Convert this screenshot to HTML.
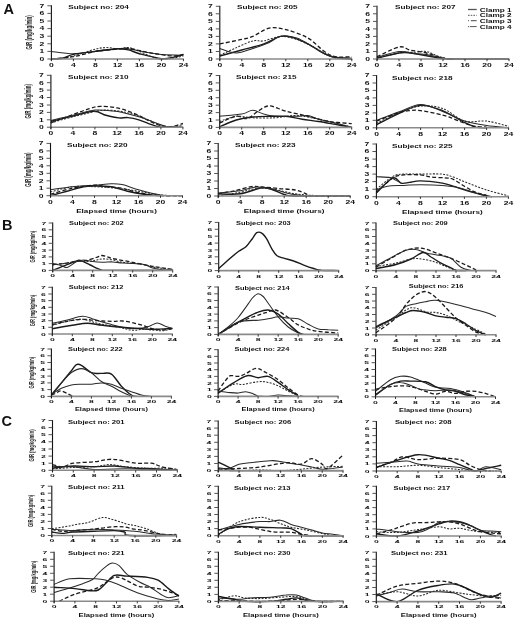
<!DOCTYPE html>
<html><head><meta charset="utf-8"><title>Figure</title>
<style>
html,body{margin:0;padding:0;background:#fff;width:520px;height:621px;overflow:hidden}
svg{display:block;font-family:"Liberation Sans", sans-serif;filter:blur(0.3px)}
</style></head><body>
<svg width="520" height="621" viewBox="0 0 520 621" font-family='"Liberation Sans", sans-serif' fill="#111">
<text x="3.6" y="13.7" font-size="14.5" font-weight="bold">A</text>
<text x="1.9" y="229.6" font-size="14.5" font-weight="bold">B</text>
<text x="1.6" y="426.4" font-size="14.5" font-weight="bold">C</text>
<path d="M51.4 51.4 C55.1 51.8 66.1 53.7 73.4 53.7 C80.7 53.7 88.1 52.2 95.4 51.4 C102.7 50.6 111.9 49.1 117.4 48.7 C122.9 48.4 122.9 48.4 128.4 49.1 C133.9 49.8 144.9 52 150.4 52.9 C155.9 53.8 155.9 54.1 161.4 54.4 C166.9 54.8 179.7 55.1 183.4 55.2" fill="none" stroke="#2a2a2a" stroke-width="1.05"/>
<path d="M51.4 59 C53.2 58.9 58.7 59 62.4 58.2 C66.1 57.5 67.9 55.6 73.4 54.4 C78.9 53.3 88.1 52.4 95.4 51.4 C102.7 50.4 111.9 49 117.4 48.7 C122.9 48.5 124.7 49.1 128.4 49.9 C132.1 50.7 133.9 52.2 139.4 53.7 C144.9 55.1 155.9 58 161.4 58.6 C166.9 59.3 168.7 58.2 172.4 57.5 C176.1 56.8 181.6 54.9 183.4 54.4" fill="none" stroke="#1a1a1a" stroke-width="1.4"/>
<path d="M56.9 59 C59.6 58.5 67 57.6 73.4 56 C79.8 54.3 89.9 50.5 95.4 49.1 C100.9 47.7 102.7 47.7 106.4 47.6 C110.1 47.5 113.7 48.7 117.4 48.7 C121.1 48.7 124.7 47.2 128.4 47.6 C132.1 48 134.8 49.6 139.4 51.4 C144 53.2 151.3 57 155.9 58.2 C160.5 59.5 162.3 59.4 166.9 59 C171.5 58.6 180.7 56.5 183.4 56" fill="none" stroke="#2a2a2a" stroke-width="1.05" stroke-dasharray="2 1.4"/>
<path d="M51.4 59 C55.1 58.6 66.1 58 73.4 56.7 C80.7 55.5 88.1 52.7 95.4 51.4 C102.7 50.1 111.9 49.6 117.4 49.1 C122.9 48.6 122.9 47.7 128.4 48.4 C133.9 49 143.1 51.7 150.4 52.9 C157.7 54.2 166.9 55.7 172.4 56 C177.9 56.2 181.6 54.7 183.4 54.4" fill="none" stroke="#1a1a1a" stroke-width="1.3" stroke-dasharray="4 2.2"/>
<path d="M51.4 59H183.9" stroke="#8a8a8a" stroke-width="1.6"/>
<path d="M51.4 59v2.2M73.4 59v2.2M95.4 59v2.2M117.4 59v2.2M139.4 59v2.2M161.4 59v2.2M183.4 59v2.2" stroke="#222" stroke-width="0.9"/>
<path d="M51.4 5.3V60.5" stroke="#111" stroke-width="1.1"/>
<path d="M47.4 59h4.0M47.4 51.4h4.0M47.4 43.8h4.0M47.4 36.2h4.0M47.4 28.6h4.0M47.4 21h4.0M47.4 13.4h4.0M47.4 5.8h4.0" stroke="#444" stroke-width="0.9"/>
<text transform="translate(42 60.8) scale(1 0.585)" text-anchor="middle" font-size="8.6" font-weight="bold">0</text>
<text transform="translate(42 53.2) scale(1 0.585)" text-anchor="middle" font-size="8.6" font-weight="bold">1</text>
<text transform="translate(42 45.6) scale(1 0.585)" text-anchor="middle" font-size="8.6" font-weight="bold">2</text>
<text transform="translate(42 38) scale(1 0.585)" text-anchor="middle" font-size="8.6" font-weight="bold">3</text>
<text transform="translate(42 30.4) scale(1 0.585)" text-anchor="middle" font-size="8.6" font-weight="bold">4</text>
<text transform="translate(42 22.8) scale(1 0.585)" text-anchor="middle" font-size="8.6" font-weight="bold">5</text>
<text transform="translate(42 15.2) scale(1 0.585)" text-anchor="middle" font-size="8.6" font-weight="bold">6</text>
<text transform="translate(42 7.6) scale(1 0.585)" text-anchor="middle" font-size="8.6" font-weight="bold">7</text>
<text transform="translate(51.4 66.8) scale(1 0.585)" text-anchor="middle" font-size="8.6" font-weight="bold">0</text>
<text transform="translate(73.4 66.8) scale(1 0.585)" text-anchor="middle" font-size="8.6" font-weight="bold">4</text>
<text transform="translate(95.4 66.8) scale(1 0.585)" text-anchor="middle" font-size="8.6" font-weight="bold">8</text>
<text transform="translate(117.4 66.8) scale(1 0.585)" text-anchor="middle" font-size="8.6" font-weight="bold">12</text>
<text transform="translate(139.4 66.8) scale(1 0.585)" text-anchor="middle" font-size="8.6" font-weight="bold">16</text>
<text transform="translate(161.4 66.8) scale(1 0.585)" text-anchor="middle" font-size="8.6" font-weight="bold">20</text>
<text transform="translate(183.4 66.8) scale(1 0.585)" text-anchor="middle" font-size="8.6" font-weight="bold">24</text>
<text transform="translate(68.3 9.2) scale(1 0.78)" font-size="8.0" font-weight="bold" textLength="60.5" lengthAdjust="spacingAndGlyphs">Subject no: 204</text>
<text transform="translate(31.8 32.4) rotate(-90)" text-anchor="middle" font-size="8.3" font-weight="bold" fill="#222" textLength="34.4" lengthAdjust="spacingAndGlyphs">GIR (mg/kg/min)</text>
<path d="M219.8 43.9 C223.5 43.2 236.3 40.7 241.8 39.4 C247.3 38.2 248.2 38.3 252.8 36.4 C257.4 34.5 263.8 29.3 269.3 28.1 C274.8 27 279.4 28 285.8 29.6 C292.2 31.3 301.4 34.3 307.8 37.9 C314.2 41.6 319.7 48.3 324.3 51.5 C328.9 54.6 330.7 55.9 335.3 56.7 C339.9 57.6 349.1 56.7 351.8 56.7" fill="none" stroke="#1a1a1a" stroke-width="1.3" stroke-dasharray="4 2.2"/>
<path d="M219.8 55.2 C222.6 54 230.8 50.1 236.3 47.7 C241.8 45.3 248.2 42.1 252.8 40.9 C257.4 39.8 259.2 41.7 263.8 40.9 C268.4 40.2 274.8 36.7 280.3 36.4 C285.8 36.2 291.3 37.7 296.8 39.4 C302.3 41.2 307.8 44.2 313.3 47 C318.8 49.7 325.2 54.1 329.8 56 C334.4 57.9 337.1 57.9 340.8 58.2 C344.5 58.6 350 58.2 351.8 58.2" fill="none" stroke="#2a2a2a" stroke-width="1.05" stroke-dasharray="2 1.4"/>
<path d="M219.8 56 C223.5 55 234.5 52 241.8 50 C249.1 48 257.4 46.2 263.8 43.9 C270.2 41.7 275.7 37.5 280.3 36.4 C284.9 35.3 286.7 35.9 291.3 37.2 C295.9 38.4 302.3 41.2 307.8 43.9 C313.3 46.7 319.7 51.5 324.3 53.7 C328.9 56 330.7 56.6 335.3 57.5 C339.9 58.4 349.1 58.7 351.8 59" fill="none" stroke="#1a1a1a" stroke-width="1.4"/>
<path d="M219.8 48.5 C222.6 49.2 230.8 53 236.3 53 C241.8 53 247.3 50.2 252.8 48.5 C258.3 46.7 264.7 44.4 269.3 42.4 C273.9 40.4 275.7 37.2 280.3 36.4 C284.9 35.7 291.3 36.2 296.8 37.9 C302.3 39.7 307.8 43.9 313.3 47 C318.8 50 323.4 54.1 329.8 56 C336.2 57.9 348.1 57.9 351.8 58.2" fill="none" stroke="#2a2a2a" stroke-width="1.05"/>
<path d="M219.8 59H352.3" stroke="#8a8a8a" stroke-width="1.6"/>
<path d="M219.8 59v2.2M241.8 59v2.2M263.8 59v2.2M285.8 59v2.2M307.8 59v2.2M329.8 59v2.2M351.8 59v2.2" stroke="#222" stroke-width="0.9"/>
<path d="M219.8 5.8V60.5" stroke="#111" stroke-width="1.1"/>
<path d="M215.8 59h4.0M215.8 51.5h4.0M215.8 43.9h4.0M215.8 36.4h4.0M215.8 28.9h4.0M215.8 21.4h4.0M215.8 13.8h4.0M215.8 6.3h4.0" stroke="#444" stroke-width="0.9"/>
<text transform="translate(210.4 60.8) scale(1 0.585)" text-anchor="middle" font-size="8.6" font-weight="bold">0</text>
<text transform="translate(210.4 53.3) scale(1 0.585)" text-anchor="middle" font-size="8.6" font-weight="bold">1</text>
<text transform="translate(210.4 45.7) scale(1 0.585)" text-anchor="middle" font-size="8.6" font-weight="bold">2</text>
<text transform="translate(210.4 38.2) scale(1 0.585)" text-anchor="middle" font-size="8.6" font-weight="bold">3</text>
<text transform="translate(210.4 30.7) scale(1 0.585)" text-anchor="middle" font-size="8.6" font-weight="bold">4</text>
<text transform="translate(210.4 23.2) scale(1 0.585)" text-anchor="middle" font-size="8.6" font-weight="bold">5</text>
<text transform="translate(210.4 15.6) scale(1 0.585)" text-anchor="middle" font-size="8.6" font-weight="bold">6</text>
<text transform="translate(210.4 8.1) scale(1 0.585)" text-anchor="middle" font-size="8.6" font-weight="bold">7</text>
<text transform="translate(219.8 66.8) scale(1 0.585)" text-anchor="middle" font-size="8.6" font-weight="bold">0</text>
<text transform="translate(241.8 66.8) scale(1 0.585)" text-anchor="middle" font-size="8.6" font-weight="bold">4</text>
<text transform="translate(263.8 66.8) scale(1 0.585)" text-anchor="middle" font-size="8.6" font-weight="bold">8</text>
<text transform="translate(285.8 66.8) scale(1 0.585)" text-anchor="middle" font-size="8.6" font-weight="bold">12</text>
<text transform="translate(307.8 66.8) scale(1 0.585)" text-anchor="middle" font-size="8.6" font-weight="bold">16</text>
<text transform="translate(329.8 66.8) scale(1 0.585)" text-anchor="middle" font-size="8.6" font-weight="bold">20</text>
<text transform="translate(351.8 66.8) scale(1 0.585)" text-anchor="middle" font-size="8.6" font-weight="bold">24</text>
<text transform="translate(237 8.7) scale(1 0.78)" font-size="8.0" font-weight="bold" textLength="60.5" lengthAdjust="spacingAndGlyphs">Subject no: 205</text>
<path d="M377 56.7 C380.7 55.1 393.5 48.1 399 47 C404.5 45.8 405.4 49 410 50 C414.6 51 421 51.6 426.5 53 C432 54.4 438.4 57.2 443 58.2 C447.6 59.3 452.2 58.9 454 59" fill="none" stroke="#1a1a1a" stroke-width="1.3" stroke-dasharray="4 2.2"/>
<path d="M377 58.2 C380.7 57.4 392.6 54 399 53 C405.4 52 410.9 52.5 415.5 52.2 C420.1 52 422.8 50.8 426.5 51.5 C430.2 52.1 433.8 54.7 437.5 56 C441.2 57.2 446.7 58.5 448.5 59" fill="none" stroke="#2a2a2a" stroke-width="1.05" stroke-dasharray="2 1.4"/>
<path d="M377 58.2 C380.7 57.4 393.5 53.9 399 53 C404.5 52.1 404.5 52.3 410 53 C415.5 53.6 426.5 55.8 432 56.7 C437.5 57.7 439.3 58.2 443 58.6 C446.7 59 443 58.9 454 59 C465 59.1 499.8 59 509 59" fill="none" stroke="#1a1a1a" stroke-width="1.4"/>
<path d="M377 57.5 C380.7 56.5 392.6 52.1 399 51.5 C405.4 50.8 410.9 53.2 415.5 53.7 C420.1 54.2 421.9 53.7 426.5 54.5 C431.1 55.2 438.4 57.5 443 58.2 C447.6 59 452.2 58.9 454 59" fill="none" stroke="#2a2a2a" stroke-width="1.05"/>
<path d="M377 59H509.5" stroke="#8a8a8a" stroke-width="1.6"/>
<path d="M377 59v2.2M399 59v2.2M421 59v2.2M443 59v2.2M465 59v2.2M487 59v2.2M509 59v2.2" stroke="#222" stroke-width="0.9"/>
<path d="M377 5.8V60.5" stroke="#111" stroke-width="1.1"/>
<path d="M373 59h4.0M373 51.5h4.0M373 43.9h4.0M373 36.4h4.0M373 28.9h4.0M373 21.4h4.0M373 13.8h4.0M373 6.3h4.0" stroke="#444" stroke-width="0.9"/>
<text transform="translate(367.6 60.8) scale(1 0.585)" text-anchor="middle" font-size="8.6" font-weight="bold">0</text>
<text transform="translate(367.6 53.3) scale(1 0.585)" text-anchor="middle" font-size="8.6" font-weight="bold">1</text>
<text transform="translate(367.6 45.7) scale(1 0.585)" text-anchor="middle" font-size="8.6" font-weight="bold">2</text>
<text transform="translate(367.6 38.2) scale(1 0.585)" text-anchor="middle" font-size="8.6" font-weight="bold">3</text>
<text transform="translate(367.6 30.7) scale(1 0.585)" text-anchor="middle" font-size="8.6" font-weight="bold">4</text>
<text transform="translate(367.6 23.2) scale(1 0.585)" text-anchor="middle" font-size="8.6" font-weight="bold">5</text>
<text transform="translate(367.6 15.6) scale(1 0.585)" text-anchor="middle" font-size="8.6" font-weight="bold">6</text>
<text transform="translate(367.6 8.1) scale(1 0.585)" text-anchor="middle" font-size="8.6" font-weight="bold">7</text>
<text transform="translate(377 66.8) scale(1 0.585)" text-anchor="middle" font-size="8.6" font-weight="bold">0</text>
<text transform="translate(399 66.8) scale(1 0.585)" text-anchor="middle" font-size="8.6" font-weight="bold">4</text>
<text transform="translate(421 66.8) scale(1 0.585)" text-anchor="middle" font-size="8.6" font-weight="bold">8</text>
<text transform="translate(443 66.8) scale(1 0.585)" text-anchor="middle" font-size="8.6" font-weight="bold">12</text>
<text transform="translate(465 66.8) scale(1 0.585)" text-anchor="middle" font-size="8.6" font-weight="bold">16</text>
<text transform="translate(487 66.8) scale(1 0.585)" text-anchor="middle" font-size="8.6" font-weight="bold">20</text>
<text transform="translate(509 66.8) scale(1 0.585)" text-anchor="middle" font-size="8.6" font-weight="bold">24</text>
<text transform="translate(395 8.9) scale(1 0.78)" font-size="8.0" font-weight="bold" textLength="60.5" lengthAdjust="spacingAndGlyphs">Subject no: 207</text>
<path d="M50.9 122.8 C54.6 121.4 66.5 116.9 72.9 114.6 C79.3 112.2 84.8 110 89.4 108.7 C94 107.3 95.8 106.6 100.4 106.4 C105 106.3 111.4 106.8 116.9 107.9 C122.4 109 127.9 110.9 133.4 113.1 C138.9 115.3 145.3 119.2 149.9 121.3 C154.5 123.4 157.2 124.9 160.9 125.7 C164.6 126.6 168.2 126.8 171.9 126.5 C175.6 126.1 181.1 124 182.9 123.5" fill="none" stroke="#1a1a1a" stroke-width="1.3" stroke-dasharray="4 2.2"/>
<path d="M50.9 121.3 C54.6 120.4 65.8 117.7 72.9 116.1 C80.1 114.4 88.3 111.4 93.8 111.3 C99.3 111.1 101.8 114.2 105.9 115.3 C110 116.4 114.9 117.6 118.6 117.9 C122.2 118.3 124.5 117.3 127.9 117.6 C131.3 117.9 135 118.6 138.9 119.8 C142.8 121 147.9 123.4 151.6 124.6 C155.2 125.8 157.5 126.8 160.9 127.2 C164.3 127.6 170.1 127.2 171.9 127.2" fill="none" stroke="#1a1a1a" stroke-width="1.4"/>
<path d="M50.9 120.5 C54.6 119.7 65.6 117.1 72.9 115.3 C80.2 113.6 88.5 110.9 94.9 110.1 C101.3 109.4 106.8 110.5 111.4 110.9 C116 111.3 117.8 111.4 122.4 112.4 C127 113.4 133.4 115.1 138.9 116.8 C144.4 118.6 150.8 121.1 155.4 122.8 C160 124.4 161.8 125.7 166.4 126.5 C171 127.2 180.2 127.1 182.9 127.2" fill="none" stroke="#2a2a2a" stroke-width="1.05"/>
<path d="M50.9 122.8 C54.6 121.8 65.6 118.7 72.9 116.8 C80.2 115 89.4 112.7 94.9 111.6 C100.4 110.5 101.3 110.1 105.9 110.1 C110.5 110.1 116.9 110.6 122.4 111.6 C127.9 112.6 133.4 114.2 138.9 116.1 C144.4 117.9 150.8 121 155.4 122.8 C160 124.5 161.8 126 166.4 126.5 C171 127 180.2 125.8 182.9 125.7" fill="none" stroke="#2a2a2a" stroke-width="1.05" stroke-dasharray="2 1.4"/>
<path d="M50.9 127.2H183.4" stroke="#8a8a8a" stroke-width="1.6"/>
<path d="M50.9 127.2v2.2M72.9 127.2v2.2M94.9 127.2v2.2M116.9 127.2v2.2M138.9 127.2v2.2M160.9 127.2v2.2M182.9 127.2v2.2" stroke="#222" stroke-width="0.9"/>
<path d="M50.9 74.8V128.7" stroke="#111" stroke-width="1.1"/>
<path d="M46.9 127.2h4.0M46.9 119.8h4.0M46.9 112.4h4.0M46.9 105h4.0M46.9 97.5h4.0M46.9 90.1h4.0M46.9 82.7h4.0M46.9 75.3h4.0" stroke="#444" stroke-width="0.9"/>
<text transform="translate(41.5 129) scale(1 0.585)" text-anchor="middle" font-size="8.6" font-weight="bold">0</text>
<text transform="translate(41.5 121.6) scale(1 0.585)" text-anchor="middle" font-size="8.6" font-weight="bold">1</text>
<text transform="translate(41.5 114.2) scale(1 0.585)" text-anchor="middle" font-size="8.6" font-weight="bold">2</text>
<text transform="translate(41.5 106.8) scale(1 0.585)" text-anchor="middle" font-size="8.6" font-weight="bold">3</text>
<text transform="translate(41.5 99.3) scale(1 0.585)" text-anchor="middle" font-size="8.6" font-weight="bold">4</text>
<text transform="translate(41.5 91.9) scale(1 0.585)" text-anchor="middle" font-size="8.6" font-weight="bold">5</text>
<text transform="translate(41.5 84.5) scale(1 0.585)" text-anchor="middle" font-size="8.6" font-weight="bold">6</text>
<text transform="translate(41.5 77.1) scale(1 0.585)" text-anchor="middle" font-size="8.6" font-weight="bold">7</text>
<text transform="translate(50.9 135) scale(1 0.585)" text-anchor="middle" font-size="8.6" font-weight="bold">0</text>
<text transform="translate(72.9 135) scale(1 0.585)" text-anchor="middle" font-size="8.6" font-weight="bold">4</text>
<text transform="translate(94.9 135) scale(1 0.585)" text-anchor="middle" font-size="8.6" font-weight="bold">8</text>
<text transform="translate(116.9 135) scale(1 0.585)" text-anchor="middle" font-size="8.6" font-weight="bold">12</text>
<text transform="translate(138.9 135) scale(1 0.585)" text-anchor="middle" font-size="8.6" font-weight="bold">16</text>
<text transform="translate(160.9 135) scale(1 0.585)" text-anchor="middle" font-size="8.6" font-weight="bold">20</text>
<text transform="translate(182.9 135) scale(1 0.585)" text-anchor="middle" font-size="8.6" font-weight="bold">24</text>
<text transform="translate(68 78.8) scale(1 0.78)" font-size="8.0" font-weight="bold" textLength="60.5" lengthAdjust="spacingAndGlyphs">Subject no: 210</text>
<text transform="translate(31.3 101.2) rotate(-90)" text-anchor="middle" font-size="8.3" font-weight="bold" fill="#222" textLength="34.4" lengthAdjust="spacingAndGlyphs">GIR (mg/kg/min)</text>
<path d="M219.7 116.3 C223.4 115.9 236.2 115 241.7 114.1 C247.2 113.1 249 110.3 252.7 110.3 C256.4 110.3 260 113.1 263.7 114.1 C267.4 115 269.2 115.9 274.7 116.3 C280.2 116.6 291.2 116.4 296.7 116.3 C302.2 116.2 304 115 307.7 115.5 C311.4 116 314.1 118 318.7 119.2 C323.3 120.5 329.7 121.6 335.2 123 C340.7 124.3 348.9 126.7 351.7 127.4" fill="none" stroke="#2a2a2a" stroke-width="1.05"/>
<path d="M219.7 123 C222.4 121.8 231.6 117 236.2 116.3 C240.8 115.5 243.5 119.4 247.2 118.5 C250.9 117.6 254.5 113.2 258.2 111.1 C261.9 109 264.6 105.9 269.2 105.9 C273.8 105.9 279.3 109.4 285.7 111.1 C292.1 112.8 300.4 114.5 307.7 116.3 C315 118 322.4 120.2 329.7 121.5 C337 122.7 348 123.3 351.7 123.7" fill="none" stroke="#1a1a1a" stroke-width="1.3" stroke-dasharray="4 2.2"/>
<path d="M219.7 126.7 C222.4 125.5 230.7 121.6 236.2 120 C241.7 118.4 247.2 117.6 252.7 117 C258.2 116.4 263.7 116.4 269.2 116.3 C274.7 116.2 280.2 115.8 285.7 116.3 C291.2 116.8 296.7 118.4 302.2 119.2 C307.7 120.1 313.2 120.6 318.7 121.5 C324.2 122.3 329.7 123.4 335.2 124.4 C340.7 125.4 348.9 126.9 351.7 127.4" fill="none" stroke="#1a1a1a" stroke-width="1.4"/>
<path d="M219.7 121.5 C222.4 120.6 230.7 116.9 236.2 116.3 C241.7 115.7 246.3 117.5 252.7 117.8 C259.1 118 267.4 118.1 274.7 117.8 C282 117.4 289.4 115.3 296.7 115.5 C304 115.8 311.4 117.8 318.7 119.2 C326 120.7 335.2 123.1 340.7 124.4 C346.2 125.8 349.9 126.9 351.7 127.4" fill="none" stroke="#2a2a2a" stroke-width="1.05" stroke-dasharray="2 1.4"/>
<path d="M219.7 127.4H352.2" stroke="#8a8a8a" stroke-width="1.6"/>
<path d="M219.7 127.4v2.2M241.7 127.4v2.2M263.7 127.4v2.2M285.7 127.4v2.2M307.7 127.4v2.2M329.7 127.4v2.2M351.7 127.4v2.2" stroke="#222" stroke-width="0.9"/>
<path d="M219.7 75V128.9" stroke="#111" stroke-width="1.1"/>
<path d="M215.7 127.4h4.0M215.7 120h4.0M215.7 112.6h4.0M215.7 105.2h4.0M215.7 97.7h4.0M215.7 90.3h4.0M215.7 82.9h4.0M215.7 75.5h4.0" stroke="#444" stroke-width="0.9"/>
<text transform="translate(210.3 129.2) scale(1 0.585)" text-anchor="middle" font-size="8.6" font-weight="bold">0</text>
<text transform="translate(210.3 121.8) scale(1 0.585)" text-anchor="middle" font-size="8.6" font-weight="bold">1</text>
<text transform="translate(210.3 114.4) scale(1 0.585)" text-anchor="middle" font-size="8.6" font-weight="bold">2</text>
<text transform="translate(210.3 107) scale(1 0.585)" text-anchor="middle" font-size="8.6" font-weight="bold">3</text>
<text transform="translate(210.3 99.5) scale(1 0.585)" text-anchor="middle" font-size="8.6" font-weight="bold">4</text>
<text transform="translate(210.3 92.1) scale(1 0.585)" text-anchor="middle" font-size="8.6" font-weight="bold">5</text>
<text transform="translate(210.3 84.7) scale(1 0.585)" text-anchor="middle" font-size="8.6" font-weight="bold">6</text>
<text transform="translate(210.3 77.3) scale(1 0.585)" text-anchor="middle" font-size="8.6" font-weight="bold">7</text>
<text transform="translate(219.7 135.2) scale(1 0.585)" text-anchor="middle" font-size="8.6" font-weight="bold">0</text>
<text transform="translate(241.7 135.2) scale(1 0.585)" text-anchor="middle" font-size="8.6" font-weight="bold">4</text>
<text transform="translate(263.7 135.2) scale(1 0.585)" text-anchor="middle" font-size="8.6" font-weight="bold">8</text>
<text transform="translate(285.7 135.2) scale(1 0.585)" text-anchor="middle" font-size="8.6" font-weight="bold">12</text>
<text transform="translate(307.7 135.2) scale(1 0.585)" text-anchor="middle" font-size="8.6" font-weight="bold">16</text>
<text transform="translate(329.7 135.2) scale(1 0.585)" text-anchor="middle" font-size="8.6" font-weight="bold">20</text>
<text transform="translate(351.7 135.2) scale(1 0.585)" text-anchor="middle" font-size="8.6" font-weight="bold">24</text>
<text transform="translate(236 78.8) scale(1 0.78)" font-size="8.0" font-weight="bold" textLength="60.5" lengthAdjust="spacingAndGlyphs">Subject no: 215</text>
<path d="M376.6 124.8 C380.3 122.9 391.3 116.8 398.6 113.6 C405.9 110.4 413.3 105.9 420.6 105.4 C427.9 104.9 435.3 107.8 442.6 110.6 C449.9 113.5 459.1 119.8 464.6 122.6 C470.1 125.3 471.9 126.2 475.6 127.1 C479.3 127.9 484.8 127.7 486.6 127.8" fill="none" stroke="#1a1a1a" stroke-width="1.4"/>
<path d="M376.6 123.3 C380.3 121.6 391.3 115.7 398.6 112.9 C405.9 110 413.3 106.9 420.6 106.1 C427.9 105.4 435.3 105.9 442.6 108.4 C449.9 110.9 457.3 119 464.6 121.1 C471.9 123.2 479.3 120.2 486.6 121.1 C493.9 121.9 504.9 125.4 508.6 126.3" fill="none" stroke="#2a2a2a" stroke-width="1.05" stroke-dasharray="2 1.4"/>
<path d="M376.6 120.3 C380.3 119 391.3 114.7 398.6 112.1 C405.9 109.5 413.3 104.8 420.6 104.6 C427.9 104.5 435.3 108.6 442.6 111.4 C449.9 114.1 457.3 118.7 464.6 121.1 C471.9 123.4 479.3 124.4 486.6 125.6 C493.9 126.7 504.9 127.4 508.6 127.8" fill="none" stroke="#2a2a2a" stroke-width="1.05"/>
<path d="M376.6 121.1 C380.3 119.7 393.1 114.6 398.6 112.9 C404.1 111.1 405.9 111 409.6 110.6 C413.3 110.2 415.1 109.9 420.6 110.6 C426.1 111.4 437.1 113.7 442.6 115.1 C448.1 116.5 449.9 117.5 453.6 118.8 C457.3 120.2 460.9 122.1 464.6 123.3 C468.3 124.6 471.9 125.7 475.6 126.3 C479.3 126.9 484.8 126.9 486.6 127.1" fill="none" stroke="#1a1a1a" stroke-width="1.3" stroke-dasharray="4 2.2"/>
<path d="M376.6 127.8H509.1" stroke="#8a8a8a" stroke-width="1.6"/>
<path d="M376.6 127.8v2.2M398.6 127.8v2.2M420.6 127.8v2.2M442.6 127.8v2.2M464.6 127.8v2.2M486.6 127.8v2.2M508.6 127.8v2.2" stroke="#222" stroke-width="0.9"/>
<path d="M376.6 75V129.3" stroke="#111" stroke-width="1.1"/>
<path d="M372.6 127.8h4.0M372.6 120.3h4.0M372.6 112.9h4.0M372.6 105.4h4.0M372.6 97.9h4.0M372.6 90.4h4.0M372.6 83h4.0M372.6 75.5h4.0" stroke="#444" stroke-width="0.9"/>
<text transform="translate(367.2 129.6) scale(1 0.585)" text-anchor="middle" font-size="8.6" font-weight="bold">0</text>
<text transform="translate(367.2 122.1) scale(1 0.585)" text-anchor="middle" font-size="8.6" font-weight="bold">1</text>
<text transform="translate(367.2 114.7) scale(1 0.585)" text-anchor="middle" font-size="8.6" font-weight="bold">2</text>
<text transform="translate(367.2 107.2) scale(1 0.585)" text-anchor="middle" font-size="8.6" font-weight="bold">3</text>
<text transform="translate(367.2 99.7) scale(1 0.585)" text-anchor="middle" font-size="8.6" font-weight="bold">4</text>
<text transform="translate(367.2 92.2) scale(1 0.585)" text-anchor="middle" font-size="8.6" font-weight="bold">5</text>
<text transform="translate(367.2 84.8) scale(1 0.585)" text-anchor="middle" font-size="8.6" font-weight="bold">6</text>
<text transform="translate(367.2 77.3) scale(1 0.585)" text-anchor="middle" font-size="8.6" font-weight="bold">7</text>
<text transform="translate(376.6 135.6) scale(1 0.585)" text-anchor="middle" font-size="8.6" font-weight="bold">0</text>
<text transform="translate(398.6 135.6) scale(1 0.585)" text-anchor="middle" font-size="8.6" font-weight="bold">4</text>
<text transform="translate(420.6 135.6) scale(1 0.585)" text-anchor="middle" font-size="8.6" font-weight="bold">8</text>
<text transform="translate(442.6 135.6) scale(1 0.585)" text-anchor="middle" font-size="8.6" font-weight="bold">12</text>
<text transform="translate(464.6 135.6) scale(1 0.585)" text-anchor="middle" font-size="8.6" font-weight="bold">16</text>
<text transform="translate(486.6 135.6) scale(1 0.585)" text-anchor="middle" font-size="8.6" font-weight="bold">20</text>
<text transform="translate(508.6 135.6) scale(1 0.585)" text-anchor="middle" font-size="8.6" font-weight="bold">24</text>
<text transform="translate(392 79.6) scale(1 0.78)" font-size="8.0" font-weight="bold" textLength="60.5" lengthAdjust="spacingAndGlyphs">Subject no: 218</text>
<path d="M50.5 189.7 C54.2 189.2 65.2 187.5 72.5 186.7 C79.8 186 88.1 185.7 94.5 185.2 C100.9 184.7 106.4 183.9 111 183.7 C115.6 183.6 117.4 183.5 122 184.5 C126.6 185.5 132.1 188 138.5 189.7 C144.9 191.5 155 194 160.5 195 C166 195.9 169.7 195.6 171.5 195.7" fill="none" stroke="#2a2a2a" stroke-width="1.05"/>
<path d="M50.5 194.2 C54.2 193.2 65.2 189.7 72.5 188.2 C79.8 186.7 89 185.5 94.5 185.2 C100 185 100.9 186.2 105.5 186.7 C110.1 187.2 116.5 187.2 122 188.2 C127.5 189.2 132.1 191.5 138.5 192.7 C144.9 194 153.2 195.2 160.5 195.7 C167.8 196.2 178.8 195.7 182.5 195.7" fill="none" stroke="#1a1a1a" stroke-width="1.3" stroke-dasharray="4 2.2"/>
<path d="M50.5 195.7 C53.2 195 61.5 192.7 67 191.2 C72.5 189.7 78.9 187.6 83.5 186.7 C88.1 185.9 89.9 186 94.5 186 C99.1 186 105.5 185.9 111 186.7 C116.5 187.6 122 190 127.5 191.2 C133 192.5 138.5 193.5 144 194.2 C149.5 195 157.8 195.5 160.5 195.7" fill="none" stroke="#1a1a1a" stroke-width="1.4"/>
<path d="M50.5 192 C54.2 191.1 65.2 187.6 72.5 186.7 C79.8 185.9 87.2 186.5 94.5 186.7 C101.8 187 109.2 187.5 116.5 188.2 C123.8 189 131.2 190.1 138.5 191.2 C145.8 192.3 153.2 194.2 160.5 195 C167.8 195.7 178.8 195.6 182.5 195.7" fill="none" stroke="#2a2a2a" stroke-width="1.05" stroke-dasharray="2 1.4"/>
<path d="M50.5 195.7H183" stroke="#8a8a8a" stroke-width="1.6"/>
<path d="M50.5 195.7v2.2M72.5 195.7v2.2M94.5 195.7v2.2M116.5 195.7v2.2M138.5 195.7v2.2M160.5 195.7v2.2M182.5 195.7v2.2" stroke="#222" stroke-width="0.9"/>
<path d="M50.5 142.9V197.2" stroke="#111" stroke-width="1.1"/>
<path d="M46.5 195.7h4.0M46.5 188.2h4.0M46.5 180.8h4.0M46.5 173.3h4.0M46.5 165.8h4.0M46.5 158.3h4.0M46.5 150.9h4.0M46.5 143.4h4.0" stroke="#444" stroke-width="0.9"/>
<text transform="translate(41.1 197.5) scale(1 0.585)" text-anchor="middle" font-size="8.6" font-weight="bold">0</text>
<text transform="translate(41.1 190) scale(1 0.585)" text-anchor="middle" font-size="8.6" font-weight="bold">1</text>
<text transform="translate(41.1 182.6) scale(1 0.585)" text-anchor="middle" font-size="8.6" font-weight="bold">2</text>
<text transform="translate(41.1 175.1) scale(1 0.585)" text-anchor="middle" font-size="8.6" font-weight="bold">3</text>
<text transform="translate(41.1 167.6) scale(1 0.585)" text-anchor="middle" font-size="8.6" font-weight="bold">4</text>
<text transform="translate(41.1 160.1) scale(1 0.585)" text-anchor="middle" font-size="8.6" font-weight="bold">5</text>
<text transform="translate(41.1 152.7) scale(1 0.585)" text-anchor="middle" font-size="8.6" font-weight="bold">6</text>
<text transform="translate(41.1 145.2) scale(1 0.585)" text-anchor="middle" font-size="8.6" font-weight="bold">7</text>
<text transform="translate(50.5 203.5) scale(1 0.585)" text-anchor="middle" font-size="8.6" font-weight="bold">0</text>
<text transform="translate(72.5 203.5) scale(1 0.585)" text-anchor="middle" font-size="8.6" font-weight="bold">4</text>
<text transform="translate(94.5 203.5) scale(1 0.585)" text-anchor="middle" font-size="8.6" font-weight="bold">8</text>
<text transform="translate(116.5 203.5) scale(1 0.585)" text-anchor="middle" font-size="8.6" font-weight="bold">12</text>
<text transform="translate(138.5 203.5) scale(1 0.585)" text-anchor="middle" font-size="8.6" font-weight="bold">16</text>
<text transform="translate(160.5 203.5) scale(1 0.585)" text-anchor="middle" font-size="8.6" font-weight="bold">20</text>
<text transform="translate(182.5 203.5) scale(1 0.585)" text-anchor="middle" font-size="8.6" font-weight="bold">24</text>
<text transform="translate(67 146.8) scale(1 0.78)" font-size="8.0" font-weight="bold" textLength="60.5" lengthAdjust="spacingAndGlyphs">Subject no: 220</text>
<text transform="translate(30.9 169.6) rotate(-90)" text-anchor="middle" font-size="8.3" font-weight="bold" fill="#222" textLength="34.4" lengthAdjust="spacingAndGlyphs">GIR (mg/kg/min)</text>
<text transform="translate(116.5 212.6) scale(1 0.72)" text-anchor="middle" font-size="7.6" font-weight="bold" textLength="80.7" lengthAdjust="spacingAndGlyphs">Elapsed time (hours)</text>
<path d="M218.2 193.8 C220.9 193.2 229.2 191.9 234.7 190.8 C240.2 189.6 246.6 187.2 251.2 186.6 C255.8 186 257.6 186.7 262.2 187 C266.8 187.3 273.2 188 278.7 188.5 C284.2 189 290.6 189.1 295.2 190 C299.8 190.9 303.4 192.8 306.2 193.8 C308.9 194.8 304.4 195.6 311.7 196 C319 196.4 343.8 196 350.2 196" fill="none" stroke="#1a1a1a" stroke-width="1.3" stroke-dasharray="4 2.2"/>
<path d="M218.2 193.8 C221.9 193.8 232.9 194.8 240.2 193.8 C247.5 192.8 256.7 188.4 262.2 187.8 C267.7 187.1 269.5 188.9 273.2 190 C276.9 191.1 280.5 193.5 284.2 194.5 C287.9 195.5 284.2 195.8 295.2 196 C306.2 196.2 341 196 350.2 196" fill="none" stroke="#1a1a1a" stroke-width="1.4"/>
<path d="M218.2 193 C221.9 192.6 233.8 191.8 240.2 190.8 C246.6 189.8 251.2 187.2 256.7 187 C262.2 186.8 267.7 188.1 273.2 189.2 C278.7 190.4 284.2 192.6 289.7 193.8 C295.2 194.9 303.4 195.6 306.2 196" fill="none" stroke="#2a2a2a" stroke-width="1.05"/>
<path d="M218.2 196 C221.9 195.4 233.8 193.5 240.2 192.2 C246.6 191 251.2 189 256.7 188.5 C262.2 188 266.8 188.4 273.2 189.2 C279.6 190.1 287.9 192.7 295.2 193.8 C302.5 194.8 308 195.2 317.2 195.6 C326.4 196 344.7 195.9 350.2 196" fill="none" stroke="#2a2a2a" stroke-width="1.05" stroke-dasharray="2 1.4"/>
<path d="M218.2 196H350.7" stroke="#8a8a8a" stroke-width="1.6"/>
<path d="M218.2 196v2.2M240.2 196v2.2M262.2 196v2.2M284.2 196v2.2M306.2 196v2.2M328.2 196v2.2M350.2 196v2.2" stroke="#222" stroke-width="0.9"/>
<path d="M218.2 143V197.5" stroke="#111" stroke-width="1.1"/>
<path d="M214.2 196h4.0M214.2 188.5h4.0M214.2 181h4.0M214.2 173.5h4.0M214.2 166h4.0M214.2 158.5h4.0M214.2 151h4.0M214.2 143.5h4.0" stroke="#444" stroke-width="0.9"/>
<text transform="translate(208.8 197.8) scale(1 0.585)" text-anchor="middle" font-size="8.6" font-weight="bold">0</text>
<text transform="translate(208.8 190.3) scale(1 0.585)" text-anchor="middle" font-size="8.6" font-weight="bold">1</text>
<text transform="translate(208.8 182.8) scale(1 0.585)" text-anchor="middle" font-size="8.6" font-weight="bold">2</text>
<text transform="translate(208.8 175.3) scale(1 0.585)" text-anchor="middle" font-size="8.6" font-weight="bold">3</text>
<text transform="translate(208.8 167.8) scale(1 0.585)" text-anchor="middle" font-size="8.6" font-weight="bold">4</text>
<text transform="translate(208.8 160.3) scale(1 0.585)" text-anchor="middle" font-size="8.6" font-weight="bold">5</text>
<text transform="translate(208.8 152.8) scale(1 0.585)" text-anchor="middle" font-size="8.6" font-weight="bold">6</text>
<text transform="translate(208.8 145.3) scale(1 0.585)" text-anchor="middle" font-size="8.6" font-weight="bold">7</text>
<text transform="translate(218.2 203.8) scale(1 0.585)" text-anchor="middle" font-size="8.6" font-weight="bold">0</text>
<text transform="translate(240.2 203.8) scale(1 0.585)" text-anchor="middle" font-size="8.6" font-weight="bold">4</text>
<text transform="translate(262.2 203.8) scale(1 0.585)" text-anchor="middle" font-size="8.6" font-weight="bold">8</text>
<text transform="translate(284.2 203.8) scale(1 0.585)" text-anchor="middle" font-size="8.6" font-weight="bold">12</text>
<text transform="translate(306.2 203.8) scale(1 0.585)" text-anchor="middle" font-size="8.6" font-weight="bold">16</text>
<text transform="translate(328.2 203.8) scale(1 0.585)" text-anchor="middle" font-size="8.6" font-weight="bold">20</text>
<text transform="translate(350.2 203.8) scale(1 0.585)" text-anchor="middle" font-size="8.6" font-weight="bold">24</text>
<text transform="translate(235 146.8) scale(1 0.78)" font-size="8.0" font-weight="bold" textLength="60.5" lengthAdjust="spacingAndGlyphs">Subject no: 223</text>
<text transform="translate(284.2 212.9) scale(1 0.72)" text-anchor="middle" font-size="7.6" font-weight="bold" textLength="80.7" lengthAdjust="spacingAndGlyphs">Elapsed time (hours)</text>
<path d="M376.4 189.2 C379.1 187 388.3 178.9 392.9 176.4 C397.5 173.9 399.3 174.5 403.9 174.1 C408.5 173.7 414 174.1 420.4 174.1 C426.8 174.1 436.9 173.6 442.4 174.1 C447.9 174.6 449.7 175.9 453.4 177.1 C457.1 178.4 458.9 179.5 464.4 181.6 C469.9 183.8 479.1 187.5 486.4 189.9 C493.7 192.3 504.7 194.9 508.4 195.9" fill="none" stroke="#2a2a2a" stroke-width="1.05" stroke-dasharray="2 1.4"/>
<path d="M376.4 192.2 C379.1 189.8 388.3 180.8 392.9 177.9 C397.5 175 399.3 175.4 403.9 174.9 C408.5 174.4 415.8 174.5 420.4 174.9 C425 175.2 427.3 176.6 431.4 177.1 C435.5 177.6 441.5 177.5 445.1 177.9 C448.8 178.3 450.2 178 453.4 179.4 C456.6 180.8 460.7 184 464.4 186.2 C468.1 188.3 471.7 190.7 475.4 192.2 C479.1 193.7 484.6 194.7 486.4 195.2" fill="none" stroke="#1a1a1a" stroke-width="1.3" stroke-dasharray="4 2.2"/>
<path d="M376.4 192.9 C379.1 190.4 388.8 179.5 392.9 177.9 C397 176.2 398.4 182.4 401.1 183.1 C403.9 183.9 406.2 182.8 409.4 182.4 C412.6 182 414.9 180.8 420.4 180.9 C425.9 181 436.9 182.3 442.4 183.1 C447.9 184 449.7 185 453.4 186.2 C457.1 187.3 460.7 188.8 464.4 189.9 C468.1 191.1 471.7 191.9 475.4 192.9 C479.1 193.9 483.6 195.3 486.4 195.9 C489.1 196.6 491 196.6 491.9 196.7" fill="none" stroke="#1a1a1a" stroke-width="1.4"/>
<path d="M376.4 176.7 C378.7 176.9 386.9 176.9 390.1 177.5 C393.4 178.1 393.8 179.2 395.6 180.1 C397.5 181.1 400.2 182.6 401.1 183.1" fill="none" stroke="#2a2a2a" stroke-width="1.05"/>
<path d="M376.4 189.9 C378.2 189.3 382.8 186.9 387.4 186.2 C392 185.4 398.4 185.7 403.9 185.4 C409.4 185.2 414 184.7 420.4 184.7 C426.8 184.7 436 184.9 442.4 185.4 C448.8 185.9 453.4 186.4 458.9 187.7 C464.4 188.9 469.9 191.4 475.4 192.9 C480.9 194.4 489.1 196.1 491.9 196.7" fill="none" stroke="#2a2a2a" stroke-width="1.05"/>
<path d="M376.4 196.7H508.9" stroke="#8a8a8a" stroke-width="1.6"/>
<path d="M376.4 196.7v2.2M398.4 196.7v2.2M420.4 196.7v2.2M442.4 196.7v2.2M464.4 196.7v2.2M486.4 196.7v2.2M508.4 196.7v2.2" stroke="#222" stroke-width="0.9"/>
<path d="M376.4 143.5V198.2" stroke="#111" stroke-width="1.1"/>
<path d="M372.4 196.7h4.0M372.4 189.2h4.0M372.4 181.6h4.0M372.4 174.1h4.0M372.4 166.6h4.0M372.4 159.1h4.0M372.4 151.5h4.0M372.4 144h4.0" stroke="#444" stroke-width="0.9"/>
<text transform="translate(367 198.5) scale(1 0.585)" text-anchor="middle" font-size="8.6" font-weight="bold">0</text>
<text transform="translate(367 191) scale(1 0.585)" text-anchor="middle" font-size="8.6" font-weight="bold">1</text>
<text transform="translate(367 183.4) scale(1 0.585)" text-anchor="middle" font-size="8.6" font-weight="bold">2</text>
<text transform="translate(367 175.9) scale(1 0.585)" text-anchor="middle" font-size="8.6" font-weight="bold">3</text>
<text transform="translate(367 168.4) scale(1 0.585)" text-anchor="middle" font-size="8.6" font-weight="bold">4</text>
<text transform="translate(367 160.9) scale(1 0.585)" text-anchor="middle" font-size="8.6" font-weight="bold">5</text>
<text transform="translate(367 153.3) scale(1 0.585)" text-anchor="middle" font-size="8.6" font-weight="bold">6</text>
<text transform="translate(367 145.8) scale(1 0.585)" text-anchor="middle" font-size="8.6" font-weight="bold">7</text>
<text transform="translate(376.4 204.5) scale(1 0.585)" text-anchor="middle" font-size="8.6" font-weight="bold">0</text>
<text transform="translate(398.4 204.5) scale(1 0.585)" text-anchor="middle" font-size="8.6" font-weight="bold">4</text>
<text transform="translate(420.4 204.5) scale(1 0.585)" text-anchor="middle" font-size="8.6" font-weight="bold">8</text>
<text transform="translate(442.4 204.5) scale(1 0.585)" text-anchor="middle" font-size="8.6" font-weight="bold">12</text>
<text transform="translate(464.4 204.5) scale(1 0.585)" text-anchor="middle" font-size="8.6" font-weight="bold">16</text>
<text transform="translate(486.4 204.5) scale(1 0.585)" text-anchor="middle" font-size="8.6" font-weight="bold">20</text>
<text transform="translate(508.4 204.5) scale(1 0.585)" text-anchor="middle" font-size="8.6" font-weight="bold">24</text>
<text transform="translate(392 148.2) scale(1 0.78)" font-size="8.0" font-weight="bold" textLength="60.5" lengthAdjust="spacingAndGlyphs">Subject no: 225</text>
<text transform="translate(442.4 213.6) scale(1 0.72)" text-anchor="middle" font-size="7.6" font-weight="bold" textLength="80.7" lengthAdjust="spacingAndGlyphs">Elapsed time (hours)</text>
<path d="M52.7 270.4 C54.7 269.6 60.7 267.2 64.7 265.7 C68.7 264.1 74 261.8 76.7 260.9 C79.4 260.1 78.5 259.9 80.7 260.6 C83 261.3 86.9 263.5 90.2 265 C93.5 266.5 97.8 268.8 100.7 269.7 C103.6 270.6 95.7 270.3 107.7 270.4 C119.7 270.5 161.9 270.4 172.7 270.4" fill="none" stroke="#1a1a1a" stroke-width="1.4"/>
<path d="M52.7 263.6 C54.2 264 59.3 265 61.7 265.7 C64.1 266.3 64.7 268 67.2 267.4 C69.7 266.7 74 262.8 76.7 261.6 C79.5 260.4 81 259.9 83.7 259.9 C86.4 259.9 89.5 261.2 92.7 261.6 C95.9 262 99.4 262.2 102.7 262.3 C106 262.3 109.4 261.8 112.7 261.9 C116 262 117.7 262.6 122.7 263 C127.7 263.3 137.7 263.5 142.7 264.3 C147.7 265.2 149.4 267.1 152.7 268 C156 268.9 159.4 269.4 162.7 269.7 C166 270.1 171 270 172.7 270.1" fill="none" stroke="#2a2a2a" stroke-width="1.05"/>
<path d="M52.7 264.3 C54.4 264.2 58.7 264.1 62.7 263.6 C66.7 263.1 73 261.7 76.7 261.3 C80.4 260.8 81.5 261.5 84.7 260.9 C88 260.3 93.4 258.4 96.2 257.5 C99 256.6 99.8 255.6 101.7 255.5 C103.6 255.4 105.9 256.3 107.7 256.9 C109.5 257.4 108.5 257.6 112.7 258.5 C116.9 259.5 126 261 132.7 262.3 C139.4 263.6 146 265.2 152.7 266.3 C159.4 267.5 169.4 268.9 172.7 269.4" fill="none" stroke="#1a1a1a" stroke-width="1.3" stroke-dasharray="4 2.2"/>
<path d="M52.7 265 C55.2 264.6 63.5 263.6 67.7 263 C71.9 262.3 74.4 261.5 77.7 261.3 C81 261 84.8 261.8 87.7 261.6 C90.6 261.4 92.7 260.7 95.2 260.2 C97.7 259.8 99.8 258.9 102.7 258.9 C105.6 258.8 109.4 259.3 112.7 259.9 C116 260.5 117.7 261.5 122.7 262.3 C127.7 263 137.7 263.5 142.7 264.3 C147.7 265.1 149.4 266.3 152.7 267 C156 267.7 159.4 267.9 162.7 268.4 C166 268.8 171 269.5 172.7 269.7" fill="none" stroke="#2a2a2a" stroke-width="1.05" stroke-dasharray="2 1.4"/>
<path d="M52.7 270.4H173.2" stroke="#8a8a8a" stroke-width="1.6"/>
<path d="M52.7 270.4v2.2M72.7 270.4v2.2M92.7 270.4v2.2M112.7 270.4v2.2M132.7 270.4v2.2M152.7 270.4v2.2M172.7 270.4v2.2" stroke="#222" stroke-width="0.9"/>
<path d="M52.7 222.5V271.9" stroke="#111" stroke-width="1.1"/>
<path d="M48.7 270.4h4.0M48.7 263.6h4.0M48.7 256.9h4.0M48.7 250.1h4.0M48.7 243.3h4.0M48.7 236.5h4.0M48.7 229.8h4.0M48.7 223h4.0" stroke="#444" stroke-width="0.9"/>
<text transform="translate(43.9 272) scale(1 0.505)" text-anchor="middle" font-size="8.6" font-weight="bold">0</text>
<text transform="translate(43.9 265.2) scale(1 0.505)" text-anchor="middle" font-size="8.6" font-weight="bold">1</text>
<text transform="translate(43.9 258.4) scale(1 0.505)" text-anchor="middle" font-size="8.6" font-weight="bold">2</text>
<text transform="translate(43.9 251.6) scale(1 0.505)" text-anchor="middle" font-size="8.6" font-weight="bold">3</text>
<text transform="translate(43.9 244.9) scale(1 0.505)" text-anchor="middle" font-size="8.6" font-weight="bold">4</text>
<text transform="translate(43.9 238.1) scale(1 0.505)" text-anchor="middle" font-size="8.6" font-weight="bold">5</text>
<text transform="translate(43.9 231.3) scale(1 0.505)" text-anchor="middle" font-size="8.6" font-weight="bold">6</text>
<text transform="translate(43.9 224.6) scale(1 0.505)" text-anchor="middle" font-size="8.6" font-weight="bold">7</text>
<text transform="translate(52.7 277.3) scale(1 0.505)" text-anchor="middle" font-size="8.6" font-weight="bold">0</text>
<text transform="translate(72.7 277.3) scale(1 0.505)" text-anchor="middle" font-size="8.6" font-weight="bold">4</text>
<text transform="translate(92.7 277.3) scale(1 0.505)" text-anchor="middle" font-size="8.6" font-weight="bold">8</text>
<text transform="translate(112.7 277.3) scale(1 0.505)" text-anchor="middle" font-size="8.6" font-weight="bold">12</text>
<text transform="translate(132.7 277.3) scale(1 0.505)" text-anchor="middle" font-size="8.6" font-weight="bold">16</text>
<text transform="translate(152.7 277.3) scale(1 0.505)" text-anchor="middle" font-size="8.6" font-weight="bold">20</text>
<text transform="translate(172.7 277.3) scale(1 0.505)" text-anchor="middle" font-size="8.6" font-weight="bold">24</text>
<text transform="translate(69 224.8) scale(1 0.67)" font-size="8.0" font-weight="bold" textLength="54.7" lengthAdjust="spacingAndGlyphs">Subject no: 202</text>
<text transform="translate(35.3 246.7) rotate(-90)" text-anchor="middle" font-size="7.0" font-weight="bold" fill="#222" textLength="31.5" lengthAdjust="spacingAndGlyphs">GIR (mg/kg/min)</text>
<path d="M218.7 268.5 C220.4 267 225.4 262.5 228.7 259.6 C232 256.7 235.8 253.5 238.7 251.3 C241.6 249.1 243.9 248.7 246.2 246.5 C248.5 244.3 250.9 240.5 252.7 238.2 C254.4 235.9 255.2 233.6 256.7 232.7 C258.2 231.9 260 232 261.7 233.1 C263.4 234.1 265 236.3 266.7 238.9 C268.4 241.5 270 245.8 271.7 248.6 C273.4 251.3 274.7 253.8 276.7 255.5 C278.7 257.1 280.9 257.3 283.7 258.2 C286.5 259.1 290.4 259.8 293.7 261 C297 262.1 300.4 263.8 303.7 265.1 C307 266.4 310.8 267.7 313.7 268.5 C316.6 269.4 317 269.9 321.2 270.3 C325.4 270.6 335.8 270.5 338.7 270.6" fill="none" stroke="#1a1a1a" stroke-width="1.4"/>
<path d="M218.7 270.6H339.2" stroke="#8a8a8a" stroke-width="1.6"/>
<path d="M218.7 270.6v2.2M238.7 270.6v2.2M258.7 270.6v2.2M278.7 270.6v2.2M298.7 270.6v2.2M318.7 270.6v2.2M338.7 270.6v2.2" stroke="#222" stroke-width="0.9"/>
<path d="M218.7 221.9V272.1" stroke="#111" stroke-width="1.1"/>
<path d="M214.7 270.6h4.0M214.7 263.7h4.0M214.7 256.8h4.0M214.7 249.9h4.0M214.7 243.1h4.0M214.7 236.2h4.0M214.7 229.3h4.0M214.7 222.4h4.0" stroke="#444" stroke-width="0.9"/>
<text transform="translate(209.9 272.2) scale(1 0.505)" text-anchor="middle" font-size="8.6" font-weight="bold">0</text>
<text transform="translate(209.9 265.3) scale(1 0.505)" text-anchor="middle" font-size="8.6" font-weight="bold">1</text>
<text transform="translate(209.9 258.4) scale(1 0.505)" text-anchor="middle" font-size="8.6" font-weight="bold">2</text>
<text transform="translate(209.9 251.5) scale(1 0.505)" text-anchor="middle" font-size="8.6" font-weight="bold">3</text>
<text transform="translate(209.9 244.6) scale(1 0.505)" text-anchor="middle" font-size="8.6" font-weight="bold">4</text>
<text transform="translate(209.9 237.7) scale(1 0.505)" text-anchor="middle" font-size="8.6" font-weight="bold">5</text>
<text transform="translate(209.9 230.8) scale(1 0.505)" text-anchor="middle" font-size="8.6" font-weight="bold">6</text>
<text transform="translate(209.9 224) scale(1 0.505)" text-anchor="middle" font-size="8.6" font-weight="bold">7</text>
<text transform="translate(218.7 277.5) scale(1 0.505)" text-anchor="middle" font-size="8.6" font-weight="bold">0</text>
<text transform="translate(238.7 277.5) scale(1 0.505)" text-anchor="middle" font-size="8.6" font-weight="bold">4</text>
<text transform="translate(258.7 277.5) scale(1 0.505)" text-anchor="middle" font-size="8.6" font-weight="bold">8</text>
<text transform="translate(278.7 277.5) scale(1 0.505)" text-anchor="middle" font-size="8.6" font-weight="bold">12</text>
<text transform="translate(298.7 277.5) scale(1 0.505)" text-anchor="middle" font-size="8.6" font-weight="bold">16</text>
<text transform="translate(318.7 277.5) scale(1 0.505)" text-anchor="middle" font-size="8.6" font-weight="bold">20</text>
<text transform="translate(338.7 277.5) scale(1 0.505)" text-anchor="middle" font-size="8.6" font-weight="bold">24</text>
<text transform="translate(236 225.4) scale(1 0.67)" font-size="8.0" font-weight="bold" textLength="54.7" lengthAdjust="spacingAndGlyphs">Subject no: 203</text>
<path d="M376 267.2 C378.5 265.7 386 261.2 391 258.3 C396 255.5 401 251.9 406 250.2 C411 248.5 416 247.7 421 248.1 C426 248.6 431 251.2 436 252.9 C441 254.6 446 256.3 451 258.3 C456 260.4 461.8 263.2 466 265.1 C470.2 267.1 474.3 269.1 476 269.9" fill="none" stroke="#1a1a1a" stroke-width="1.3" stroke-dasharray="4 2.2"/>
<path d="M376 265.8 C378.5 264.5 386 260.3 391 257.7 C396 255 401.8 251.5 406 250.2 C410.2 248.8 412.7 249 416 249.5 C419.3 249.9 421.8 251.9 426 252.9 C430.2 253.9 436.8 254.7 441 255.6 C445.2 256.5 447.7 256.4 451 258.3 C454.3 260.3 457.7 265.1 461 267.2 C464.3 269.2 469.3 270 471 270.6" fill="none" stroke="#2a2a2a" stroke-width="1.05"/>
<path d="M376 268.6 C379.3 267.9 390.2 266.1 396 264.5 C401.8 262.9 406.5 261 411 259 C415.5 257 419.7 252.9 423 252.5 C426.3 252.2 428 255.2 431 257 C434 258.7 437.7 261.3 441 263.1 C444.3 264.9 448.5 266.7 451 267.9 C453.5 269.1 453.5 269.8 456 270.3 C458.5 270.7 464.3 270.5 466 270.6" fill="none" stroke="#1a1a1a" stroke-width="1.4"/>
<path d="M376 266.5 C379.3 265.9 389.8 264.4 396 263.1 C402.2 261.8 408.5 259.2 413.5 258.7 C418.5 258.1 422.2 259.1 426 259.7 C429.8 260.3 432.7 261.3 436 262.4 C439.3 263.6 442.7 265.2 446 266.5 C449.3 267.8 454.3 269.6 456 270.3" fill="none" stroke="#2a2a2a" stroke-width="1.05" stroke-dasharray="2 1.4"/>
<path d="M376 270.6H496.5" stroke="#8a8a8a" stroke-width="1.6"/>
<path d="M376 270.6v2.2M396 270.6v2.2M416 270.6v2.2M436 270.6v2.2M456 270.6v2.2M476 270.6v2.2M496 270.6v2.2" stroke="#222" stroke-width="0.9"/>
<path d="M376 222.4V272.1" stroke="#111" stroke-width="1.1"/>
<path d="M372 270.6h4.0M372 263.8h4.0M372 257h4.0M372 250.2h4.0M372 243.3h4.0M372 236.5h4.0M372 229.7h4.0M372 222.9h4.0" stroke="#444" stroke-width="0.9"/>
<text transform="translate(367.2 272.2) scale(1 0.505)" text-anchor="middle" font-size="8.6" font-weight="bold">0</text>
<text transform="translate(367.2 265.3) scale(1 0.505)" text-anchor="middle" font-size="8.6" font-weight="bold">1</text>
<text transform="translate(367.2 258.5) scale(1 0.505)" text-anchor="middle" font-size="8.6" font-weight="bold">2</text>
<text transform="translate(367.2 251.7) scale(1 0.505)" text-anchor="middle" font-size="8.6" font-weight="bold">3</text>
<text transform="translate(367.2 244.9) scale(1 0.505)" text-anchor="middle" font-size="8.6" font-weight="bold">4</text>
<text transform="translate(367.2 238.1) scale(1 0.505)" text-anchor="middle" font-size="8.6" font-weight="bold">5</text>
<text transform="translate(367.2 231.3) scale(1 0.505)" text-anchor="middle" font-size="8.6" font-weight="bold">6</text>
<text transform="translate(367.2 224.5) scale(1 0.505)" text-anchor="middle" font-size="8.6" font-weight="bold">7</text>
<text transform="translate(376 277.5) scale(1 0.505)" text-anchor="middle" font-size="8.6" font-weight="bold">0</text>
<text transform="translate(396 277.5) scale(1 0.505)" text-anchor="middle" font-size="8.6" font-weight="bold">4</text>
<text transform="translate(416 277.5) scale(1 0.505)" text-anchor="middle" font-size="8.6" font-weight="bold">8</text>
<text transform="translate(436 277.5) scale(1 0.505)" text-anchor="middle" font-size="8.6" font-weight="bold">12</text>
<text transform="translate(456 277.5) scale(1 0.505)" text-anchor="middle" font-size="8.6" font-weight="bold">16</text>
<text transform="translate(476 277.5) scale(1 0.505)" text-anchor="middle" font-size="8.6" font-weight="bold">20</text>
<text transform="translate(496 277.5) scale(1 0.505)" text-anchor="middle" font-size="8.6" font-weight="bold">24</text>
<text transform="translate(393 225.4) scale(1 0.67)" font-size="8.0" font-weight="bold" textLength="54.7" lengthAdjust="spacingAndGlyphs">Subject no: 209</text>
<path d="M52.3 323.3 C54.8 322.8 62.3 321.2 67.3 320 C72.3 318.8 78.1 316.5 82.3 316.3 C86.5 316.1 89 317.7 92.3 318.7 C95.6 319.6 99 321 102.3 322 C105.6 323 109 323.8 112.3 324.7 C115.6 325.5 119 326.7 122.3 327.3 C125.6 328 129 328.6 132.3 328.7 C135.6 328.8 139.4 328.4 142.3 328 C145.2 327.6 147.3 326.8 149.8 326 C152.3 325.2 154.8 323 157.3 323 C159.8 323 162.3 325 164.8 326 C167.3 326.9 171.1 328.2 172.3 328.7" fill="none" stroke="#2a2a2a" stroke-width="1.05"/>
<path d="M52.3 324.7 C54.8 324.1 62.3 322.2 67.3 321.3 C72.3 320.4 77.3 319.4 82.3 319.3 C87.3 319.2 92.3 320.3 97.3 320.7 C102.3 321 108.1 321.3 112.3 321.3 C116.5 321.4 119 320.8 122.3 321 C125.6 321.2 129 321.9 132.3 322.7 C135.6 323.4 139 324.3 142.3 325.3 C145.6 326.3 149 327.9 152.3 328.7 C155.6 329.4 159 330 162.3 330 C165.6 330 170.6 328.9 172.3 328.7" fill="none" stroke="#1a1a1a" stroke-width="1.3" stroke-dasharray="4 2.2"/>
<path d="M52.3 328.7 C55.6 328.1 66.5 326.2 72.3 325.3 C78.1 324.4 82.3 323.3 87.3 323.3 C92.3 323.3 96.5 324.7 102.3 325.3 C108.1 326 115.6 326.8 122.3 327.3 C129 327.9 137.3 328.3 142.3 328.7 C147.3 329 147.3 329.4 152.3 329.3 C157.3 329.3 169 328.5 172.3 328.3" fill="none" stroke="#1a1a1a" stroke-width="1.4"/>
<path d="M52.3 325.3 C54.8 324.7 62.3 322.3 67.3 321.3 C72.3 320.3 77.3 319 82.3 319.3 C87.3 319.7 92.3 322.2 97.3 323.3 C102.3 324.4 108.1 325.2 112.3 326 C116.5 326.8 119 327.3 122.3 328 C125.6 328.7 129 330.1 132.3 330.3 C135.6 330.6 139 329.4 142.3 329.3 C145.6 329.3 149 329.8 152.3 330 C155.6 330.2 159 330.9 162.3 330.7 C165.6 330.4 170.6 329 172.3 328.7" fill="none" stroke="#2a2a2a" stroke-width="1.05" stroke-dasharray="2 1.4"/>
<path d="M52.3 334H172.8" stroke="#8a8a8a" stroke-width="1.6"/>
<path d="M52.3 334v2.2M72.3 334v2.2M92.3 334v2.2M112.3 334v2.2M132.3 334v2.2M152.3 334v2.2M172.3 334v2.2" stroke="#222" stroke-width="0.9"/>
<path d="M52.3 286.8V335.5" stroke="#111" stroke-width="1.1"/>
<path d="M48.3 334h4.0M48.3 327.3h4.0M48.3 320.7h4.0M48.3 314h4.0M48.3 307.3h4.0M48.3 300.6h4.0M48.3 294h4.0M48.3 287.3h4.0" stroke="#444" stroke-width="0.9"/>
<text transform="translate(43.5 335.6) scale(1 0.505)" text-anchor="middle" font-size="8.6" font-weight="bold">0</text>
<text transform="translate(43.5 328.9) scale(1 0.505)" text-anchor="middle" font-size="8.6" font-weight="bold">1</text>
<text transform="translate(43.5 322.2) scale(1 0.505)" text-anchor="middle" font-size="8.6" font-weight="bold">2</text>
<text transform="translate(43.5 315.5) scale(1 0.505)" text-anchor="middle" font-size="8.6" font-weight="bold">3</text>
<text transform="translate(43.5 308.9) scale(1 0.505)" text-anchor="middle" font-size="8.6" font-weight="bold">4</text>
<text transform="translate(43.5 302.2) scale(1 0.505)" text-anchor="middle" font-size="8.6" font-weight="bold">5</text>
<text transform="translate(43.5 295.5) scale(1 0.505)" text-anchor="middle" font-size="8.6" font-weight="bold">6</text>
<text transform="translate(43.5 288.9) scale(1 0.505)" text-anchor="middle" font-size="8.6" font-weight="bold">7</text>
<text transform="translate(52.3 340.9) scale(1 0.505)" text-anchor="middle" font-size="8.6" font-weight="bold">0</text>
<text transform="translate(72.3 340.9) scale(1 0.505)" text-anchor="middle" font-size="8.6" font-weight="bold">4</text>
<text transform="translate(92.3 340.9) scale(1 0.505)" text-anchor="middle" font-size="8.6" font-weight="bold">8</text>
<text transform="translate(112.3 340.9) scale(1 0.505)" text-anchor="middle" font-size="8.6" font-weight="bold">12</text>
<text transform="translate(132.3 340.9) scale(1 0.505)" text-anchor="middle" font-size="8.6" font-weight="bold">16</text>
<text transform="translate(152.3 340.9) scale(1 0.505)" text-anchor="middle" font-size="8.6" font-weight="bold">20</text>
<text transform="translate(172.3 340.9) scale(1 0.505)" text-anchor="middle" font-size="8.6" font-weight="bold">24</text>
<text transform="translate(68.7 289.3) scale(1 0.67)" font-size="8.0" font-weight="bold" textLength="54.7" lengthAdjust="spacingAndGlyphs">Subject no: 212</text>
<text transform="translate(34.9 310.6) rotate(-90)" text-anchor="middle" font-size="7.0" font-weight="bold" fill="#222" textLength="31.5" lengthAdjust="spacingAndGlyphs">GIR (mg/kg/min)</text>
<path d="M218.2 334.4 C219.9 333.2 224.9 329.8 228.2 327 C231.5 324.1 234.9 321.3 238.2 317.5 C241.5 313.6 245.7 307.3 248.2 303.9 C250.7 300.5 251.5 298.8 253.2 297.2 C254.9 295.5 256.5 293.9 258.2 293.8 C259.9 293.7 261.5 294.9 263.2 296.5 C264.9 298.1 265.7 299.9 268.2 303.3 C270.7 306.6 274.9 312.8 278.2 316.8 C281.5 320.7 284.9 324.2 288.2 327 C291.5 329.7 295.7 331.8 298.2 333 C300.7 334.3 302.4 334.2 303.2 334.4" fill="none" stroke="#2a2a2a" stroke-width="1.05"/>
<path d="M218.2 334.4 C221.5 332.4 233.2 325.1 238.2 322.2 C243.2 319.3 244.9 318.5 248.2 316.8 C251.5 315.1 254.9 313.2 258.2 312.1 C261.5 310.9 264.9 309.7 268.2 310 C271.5 310.4 274.9 311.8 278.2 314.1 C281.5 316.3 284.9 320.5 288.2 323.6 C291.5 326.6 295.7 330.6 298.2 332.4 C300.7 334.2 302.4 334.1 303.2 334.4" fill="none" stroke="#1a1a1a" stroke-width="1.4"/>
<path d="M218.2 334.4 C221.5 332.5 232.4 325.8 238.2 322.9 C244 320 248.6 318.5 253.2 316.8 C257.8 315.1 261.9 313.9 265.7 312.7 C269.4 311.6 271.9 309.2 275.7 310 C279.4 310.8 284.4 315 288.2 317.5 C291.9 320 294.9 323 298.2 324.9 C301.5 326.8 304.9 327.9 308.2 329 C311.5 330.1 313.2 330.7 318.2 331.4 C323.2 332 334.9 332.8 338.2 333" fill="none" stroke="#1a1a1a" stroke-width="1.3" stroke-dasharray="4 2.2"/>
<path d="M218.2 334.4 C221.5 332.4 231.5 324.6 238.2 322.2 C244.9 319.8 253.2 320.7 258.2 320.2 C263.2 319.6 264.9 319.4 268.2 318.8 C271.5 318.3 274.9 316.9 278.2 316.8 C281.5 316.7 284.9 317.8 288.2 318.1 C291.5 318.5 294.9 317.8 298.2 318.8 C301.5 319.8 304.9 322.6 308.2 324.2 C311.5 325.9 314.9 328.1 318.2 329 C321.5 329.9 324.9 329.4 328.2 329.7 C331.5 329.9 336.5 330.2 338.2 330.3" fill="none" stroke="#2a2a2a" stroke-width="1.05"/>
<path d="M218.2 334.4H338.7" stroke="#8a8a8a" stroke-width="1.6"/>
<path d="M218.2 334.4v2.2M238.2 334.4v2.2M258.2 334.4v2.2M278.2 334.4v2.2M298.2 334.4v2.2M318.2 334.4v2.2M338.2 334.4v2.2" stroke="#222" stroke-width="0.9"/>
<path d="M218.2 286.5V335.9" stroke="#111" stroke-width="1.1"/>
<path d="M214.2 334.4h4.0M214.2 327.6h4.0M214.2 320.9h4.0M214.2 314.1h4.0M214.2 307.3h4.0M214.2 300.5h4.0M214.2 293.8h4.0M214.2 287h4.0" stroke="#444" stroke-width="0.9"/>
<text transform="translate(209.4 336) scale(1 0.505)" text-anchor="middle" font-size="8.6" font-weight="bold">0</text>
<text transform="translate(209.4 329.2) scale(1 0.505)" text-anchor="middle" font-size="8.6" font-weight="bold">1</text>
<text transform="translate(209.4 322.4) scale(1 0.505)" text-anchor="middle" font-size="8.6" font-weight="bold">2</text>
<text transform="translate(209.4 315.6) scale(1 0.505)" text-anchor="middle" font-size="8.6" font-weight="bold">3</text>
<text transform="translate(209.4 308.9) scale(1 0.505)" text-anchor="middle" font-size="8.6" font-weight="bold">4</text>
<text transform="translate(209.4 302.1) scale(1 0.505)" text-anchor="middle" font-size="8.6" font-weight="bold">5</text>
<text transform="translate(209.4 295.3) scale(1 0.505)" text-anchor="middle" font-size="8.6" font-weight="bold">6</text>
<text transform="translate(209.4 288.6) scale(1 0.505)" text-anchor="middle" font-size="8.6" font-weight="bold">7</text>
<text transform="translate(218.2 341.3) scale(1 0.505)" text-anchor="middle" font-size="8.6" font-weight="bold">0</text>
<text transform="translate(238.2 341.3) scale(1 0.505)" text-anchor="middle" font-size="8.6" font-weight="bold">4</text>
<text transform="translate(258.2 341.3) scale(1 0.505)" text-anchor="middle" font-size="8.6" font-weight="bold">8</text>
<text transform="translate(278.2 341.3) scale(1 0.505)" text-anchor="middle" font-size="8.6" font-weight="bold">12</text>
<text transform="translate(298.2 341.3) scale(1 0.505)" text-anchor="middle" font-size="8.6" font-weight="bold">16</text>
<text transform="translate(318.2 341.3) scale(1 0.505)" text-anchor="middle" font-size="8.6" font-weight="bold">20</text>
<text transform="translate(338.2 341.3) scale(1 0.505)" text-anchor="middle" font-size="8.6" font-weight="bold">24</text>
<text transform="translate(235 289.8) scale(1 0.67)" font-size="8.0" font-weight="bold" textLength="54.7" lengthAdjust="spacingAndGlyphs">Subject no: 214</text>
<path d="M376 332.8 C379.3 330.3 391 322.6 396 317.9 C401 313.2 402.7 308.2 406 304.4 C409.3 300.6 412.7 297.1 416 294.9 C419.3 292.8 422.7 291.1 426 291.6 C429.3 292 432.7 294.9 436 297.6 C439.3 300.3 442.7 304.4 446 307.8 C449.3 311.2 452.7 315 456 317.9 C459.3 320.8 462.7 323 466 325.3 C469.3 327.7 472.7 330.5 476 332.1 C479.3 333.7 484.3 334.3 486 334.8" fill="none" stroke="#1a1a1a" stroke-width="1.3" stroke-dasharray="4 2.2"/>
<path d="M376 328 C379.3 326 391 319.5 396 315.9 C401 312.3 402.7 308.4 406 306.4 C409.3 304.4 412.7 304.5 416 303.7 C419.3 302.9 422.7 302.3 426 301.7 C429.3 301.1 431 299.9 436 300.3 C441 300.8 450.2 303 456 304.4 C461.8 305.7 466 307.1 471 308.4 C476 309.8 481.8 311.1 486 312.5 C490.2 313.9 494.3 315.9 496 316.6" fill="none" stroke="#2a2a2a" stroke-width="1.05"/>
<path d="M376 326.7 C377.7 325.9 382.7 323.5 386 322 C389.3 320.4 392.7 318.8 396 317.2 C399.3 315.7 403.1 313.6 406 312.5 C408.9 311.4 410.2 310.5 413.5 310.5 C416.8 310.5 422.2 311.6 426 312.5 C429.8 313.4 432.7 315.1 436 315.9 C439.3 316.7 442.7 316.8 446 317.2 C449.3 317.7 452.7 317.5 456 318.6 C459.3 319.7 462.7 322 466 324 C469.3 326 472.7 328.9 476 330.7 C479.3 332.5 484.3 334.1 486 334.8" fill="none" stroke="#1a1a1a" stroke-width="1.4"/>
<path d="M376 330.1 C379.3 327.9 390.2 320.9 396 317.2 C401.8 313.5 406 308.7 411 307.8 C416 306.9 421.8 311 426 311.8 C430.2 312.6 432.7 311.9 436 312.5 C439.3 313.1 441.8 313.5 446 315.2 C450.2 316.9 456 320.3 461 322.6 C466 325 471.8 327.5 476 329.4 C480.2 331.3 484.3 333.3 486 334.1" fill="none" stroke="#2a2a2a" stroke-width="1.05" stroke-dasharray="2 1.4"/>
<path d="M376 334.8H496.5" stroke="#8a8a8a" stroke-width="1.6"/>
<path d="M376 334.8v2.2M396 334.8v2.2M416 334.8v2.2M436 334.8v2.2M456 334.8v2.2M476 334.8v2.2M496 334.8v2.2" stroke="#222" stroke-width="0.9"/>
<path d="M376 287V336.3" stroke="#111" stroke-width="1.1"/>
<path d="M372 334.8h4.0M372 328h4.0M372 321.3h4.0M372 314.5h4.0M372 307.8h4.0M372 301h4.0M372 294.3h4.0M372 287.5h4.0" stroke="#444" stroke-width="0.9"/>
<text transform="translate(367.2 336.4) scale(1 0.505)" text-anchor="middle" font-size="8.6" font-weight="bold">0</text>
<text transform="translate(367.2 329.6) scale(1 0.505)" text-anchor="middle" font-size="8.6" font-weight="bold">1</text>
<text transform="translate(367.2 322.8) scale(1 0.505)" text-anchor="middle" font-size="8.6" font-weight="bold">2</text>
<text transform="translate(367.2 316.1) scale(1 0.505)" text-anchor="middle" font-size="8.6" font-weight="bold">3</text>
<text transform="translate(367.2 309.3) scale(1 0.505)" text-anchor="middle" font-size="8.6" font-weight="bold">4</text>
<text transform="translate(367.2 302.6) scale(1 0.505)" text-anchor="middle" font-size="8.6" font-weight="bold">5</text>
<text transform="translate(367.2 295.8) scale(1 0.505)" text-anchor="middle" font-size="8.6" font-weight="bold">6</text>
<text transform="translate(367.2 289.1) scale(1 0.505)" text-anchor="middle" font-size="8.6" font-weight="bold">7</text>
<text transform="translate(376 341.7) scale(1 0.505)" text-anchor="middle" font-size="8.6" font-weight="bold">0</text>
<text transform="translate(396 341.7) scale(1 0.505)" text-anchor="middle" font-size="8.6" font-weight="bold">4</text>
<text transform="translate(416 341.7) scale(1 0.505)" text-anchor="middle" font-size="8.6" font-weight="bold">8</text>
<text transform="translate(436 341.7) scale(1 0.505)" text-anchor="middle" font-size="8.6" font-weight="bold">12</text>
<text transform="translate(456 341.7) scale(1 0.505)" text-anchor="middle" font-size="8.6" font-weight="bold">16</text>
<text transform="translate(476 341.7) scale(1 0.505)" text-anchor="middle" font-size="8.6" font-weight="bold">20</text>
<text transform="translate(496 341.7) scale(1 0.505)" text-anchor="middle" font-size="8.6" font-weight="bold">24</text>
<text transform="translate(408.7 287.8) scale(1 0.67)" font-size="8.0" font-weight="bold" textLength="54.7" lengthAdjust="spacingAndGlyphs">Subject no: 216</text>
<path d="M51.4 395 C53.1 393 58.1 386.9 61.4 382.9 C64.7 378.8 68.9 373.7 71.4 370.7 C73.9 367.6 74.7 365.5 76.4 364.6 C78.1 363.7 78.9 363.9 81.4 365.3 C83.9 366.6 88.1 371.3 91.4 372.7 C94.7 374.1 98.1 373.2 101.4 373.4 C104.7 373.6 108.1 371.9 111.4 374.1 C114.7 376.2 118.1 382.7 121.4 386.2 C124.7 389.7 128.9 393.4 131.4 395 C133.9 396.7 135.6 396.2 136.4 396.4" fill="none" stroke="#1a1a1a" stroke-width="1.4"/>
<path d="M51.4 395 C53.1 393 58.1 386.6 61.4 382.9 C64.7 379.1 68.1 375.1 71.4 372.7 C74.7 370.3 78.1 368.6 81.4 368.6 C84.7 368.6 88.1 370.6 91.4 372.7 C94.7 374.8 98.1 379.2 101.4 381.5 C104.7 383.8 108.1 384.6 111.4 386.2 C114.7 387.9 118.1 390 121.4 391.7 C124.7 393.4 129.7 395.6 131.4 396.4" fill="none" stroke="#2a2a2a" stroke-width="1.05"/>
<path d="M51.4 394.4 C53.1 393.4 58.1 389.9 61.4 388.3 C64.7 386.7 68.1 385.6 71.4 384.9 C74.7 384.2 78.1 384.3 81.4 384.2 C84.7 384.1 88.1 384.4 91.4 384.2 C94.7 384 98.1 382.9 101.4 382.9 C104.7 382.9 108.1 383.3 111.4 384.2 C114.7 385.1 118.1 387 121.4 388.3 C124.7 389.5 128.1 390.5 131.4 391.7 C134.7 392.8 138.1 394.3 141.4 395 C144.7 395.8 149.7 396.2 151.4 396.4" fill="none" stroke="#2a2a2a" stroke-width="1.05"/>
<path d="M51.4 395 C52.2 394.7 54.7 393.7 56.4 393 C58.1 392.3 58.9 390.5 61.4 391 C63.9 391.4 69.3 394.8 71.4 395.7 C73.5 396.6 73.5 396.3 73.9 396.4" fill="none" stroke="#1a1a1a" stroke-width="1.3" stroke-dasharray="4 2.2"/>
<path d="M51.4 396.4H171.9" stroke="#8a8a8a" stroke-width="1.6"/>
<path d="M51.4 396.4v2.2M71.4 396.4v2.2M91.4 396.4v2.2M111.4 396.4v2.2M131.4 396.4v2.2M151.4 396.4v2.2M171.4 396.4v2.2" stroke="#222" stroke-width="0.9"/>
<path d="M51.4 348.5V397.9" stroke="#111" stroke-width="1.1"/>
<path d="M47.4 396.4h4.0M47.4 389.6h4.0M47.4 382.9h4.0M47.4 376.1h4.0M47.4 369.3h4.0M47.4 362.5h4.0M47.4 355.8h4.0M47.4 349h4.0" stroke="#444" stroke-width="0.9"/>
<text transform="translate(42.6 398) scale(1 0.505)" text-anchor="middle" font-size="8.6" font-weight="bold">0</text>
<text transform="translate(42.6 391.2) scale(1 0.505)" text-anchor="middle" font-size="8.6" font-weight="bold">1</text>
<text transform="translate(42.6 384.4) scale(1 0.505)" text-anchor="middle" font-size="8.6" font-weight="bold">2</text>
<text transform="translate(42.6 377.6) scale(1 0.505)" text-anchor="middle" font-size="8.6" font-weight="bold">3</text>
<text transform="translate(42.6 370.9) scale(1 0.505)" text-anchor="middle" font-size="8.6" font-weight="bold">4</text>
<text transform="translate(42.6 364.1) scale(1 0.505)" text-anchor="middle" font-size="8.6" font-weight="bold">5</text>
<text transform="translate(42.6 357.3) scale(1 0.505)" text-anchor="middle" font-size="8.6" font-weight="bold">6</text>
<text transform="translate(42.6 350.6) scale(1 0.505)" text-anchor="middle" font-size="8.6" font-weight="bold">7</text>
<text transform="translate(51.4 403.3) scale(1 0.505)" text-anchor="middle" font-size="8.6" font-weight="bold">0</text>
<text transform="translate(71.4 403.3) scale(1 0.505)" text-anchor="middle" font-size="8.6" font-weight="bold">4</text>
<text transform="translate(91.4 403.3) scale(1 0.505)" text-anchor="middle" font-size="8.6" font-weight="bold">8</text>
<text transform="translate(111.4 403.3) scale(1 0.505)" text-anchor="middle" font-size="8.6" font-weight="bold">12</text>
<text transform="translate(131.4 403.3) scale(1 0.505)" text-anchor="middle" font-size="8.6" font-weight="bold">16</text>
<text transform="translate(151.4 403.3) scale(1 0.505)" text-anchor="middle" font-size="8.6" font-weight="bold">20</text>
<text transform="translate(171.4 403.3) scale(1 0.505)" text-anchor="middle" font-size="8.6" font-weight="bold">24</text>
<text transform="translate(68 351.2) scale(1 0.67)" font-size="8.0" font-weight="bold" textLength="54.7" lengthAdjust="spacingAndGlyphs">Subject no: 222</text>
<text transform="translate(34 372.7) rotate(-90)" text-anchor="middle" font-size="7.0" font-weight="bold" fill="#222" textLength="31.5" lengthAdjust="spacingAndGlyphs">GIR (mg/kg/min)</text>
<text transform="translate(111.4 411.2) scale(1 0.72)" text-anchor="middle" font-size="7.6" font-weight="bold" textLength="73.0" lengthAdjust="spacingAndGlyphs">Elapsed time (hours)</text>
<path d="M218.1 391.1 C219.3 389.3 223.5 382.9 225.6 380.4 C227.7 377.8 228.5 376.4 230.6 375.7 C232.7 375.1 235.6 376.7 238.1 376.4 C240.6 376.1 242.6 375.1 245.6 373.7 C248.6 372.4 252.8 368.6 256.1 368.4 C259.4 368.2 261.9 370.5 265.6 372.4 C269.3 374.3 274.4 377.2 278.1 379.7 C281.9 382.3 284.8 385.2 288.1 387.7 C291.4 390.3 295.6 393.6 298.1 395.1 C300.6 396.5 302.3 396.2 303.1 396.4" fill="none" stroke="#1a1a1a" stroke-width="1.3" stroke-dasharray="4 2.2"/>
<path d="M218.1 393.1 C220.6 391.4 228.3 385.9 233.1 383.1 C237.9 380.2 242.9 376.6 247.1 375.7 C251.3 374.8 254.6 377.6 258.1 377.7 C261.6 377.8 264.8 375.6 268.1 376.4 C271.4 377.2 274.8 380.2 278.1 382.4 C281.4 384.6 284.8 387.5 288.1 389.7 C291.4 392 296.4 394.7 298.1 395.7" fill="none" stroke="#1a1a1a" stroke-width="1.4"/>
<path d="M218.1 393.1 C220.6 391.6 228.9 385.8 233.1 384.4 C237.3 382.9 238.9 384.8 243.1 384.4 C247.3 383.9 253.9 382.1 258.1 381.7 C262.3 381.4 264.8 381.7 268.1 382.4 C271.4 383.1 274.8 384.3 278.1 385.7 C281.4 387.2 284.8 389.4 288.1 391.1 C291.4 392.7 296.4 395 298.1 395.7" fill="none" stroke="#2a2a2a" stroke-width="1.05" stroke-dasharray="2 1.4"/>
<path d="M218.1 391.1 C219.8 391.3 224.8 392.1 228.1 392.4 C231.4 392.7 235.2 393.2 238.1 393.1 C241 393 243.1 391.6 245.6 391.7 C248.1 391.8 251 393 253.1 393.7 C255.2 394.5 255.6 395.6 258.1 396.1 C260.6 396.5 264.8 396.6 268.1 396.4 C271.4 396.2 274.8 395.2 278.1 395.1 C281.4 395 284.8 395.5 288.1 395.7 C291.4 396 296.4 396.3 298.1 396.4" fill="none" stroke="#2a2a2a" stroke-width="1.05"/>
<path d="M218.1 396.4H338.6" stroke="#8a8a8a" stroke-width="1.6"/>
<path d="M218.1 396.4v2.2M238.1 396.4v2.2M258.1 396.4v2.2M278.1 396.4v2.2M298.1 396.4v2.2M318.1 396.4v2.2M338.1 396.4v2.2" stroke="#222" stroke-width="0.9"/>
<path d="M218.1 349.2V397.9" stroke="#111" stroke-width="1.1"/>
<path d="M214.1 396.4h4.0M214.1 389.7h4.0M214.1 383.1h4.0M214.1 376.4h4.0M214.1 369.7h4.0M214.1 363h4.0M214.1 356.4h4.0M214.1 349.7h4.0" stroke="#444" stroke-width="0.9"/>
<text transform="translate(209.3 398) scale(1 0.505)" text-anchor="middle" font-size="8.6" font-weight="bold">0</text>
<text transform="translate(209.3 391.3) scale(1 0.505)" text-anchor="middle" font-size="8.6" font-weight="bold">1</text>
<text transform="translate(209.3 384.6) scale(1 0.505)" text-anchor="middle" font-size="8.6" font-weight="bold">2</text>
<text transform="translate(209.3 377.9) scale(1 0.505)" text-anchor="middle" font-size="8.6" font-weight="bold">3</text>
<text transform="translate(209.3 371.3) scale(1 0.505)" text-anchor="middle" font-size="8.6" font-weight="bold">4</text>
<text transform="translate(209.3 364.6) scale(1 0.505)" text-anchor="middle" font-size="8.6" font-weight="bold">5</text>
<text transform="translate(209.3 357.9) scale(1 0.505)" text-anchor="middle" font-size="8.6" font-weight="bold">6</text>
<text transform="translate(209.3 351.3) scale(1 0.505)" text-anchor="middle" font-size="8.6" font-weight="bold">7</text>
<text transform="translate(218.1 403.3) scale(1 0.505)" text-anchor="middle" font-size="8.6" font-weight="bold">0</text>
<text transform="translate(238.1 403.3) scale(1 0.505)" text-anchor="middle" font-size="8.6" font-weight="bold">4</text>
<text transform="translate(258.1 403.3) scale(1 0.505)" text-anchor="middle" font-size="8.6" font-weight="bold">8</text>
<text transform="translate(278.1 403.3) scale(1 0.505)" text-anchor="middle" font-size="8.6" font-weight="bold">12</text>
<text transform="translate(298.1 403.3) scale(1 0.505)" text-anchor="middle" font-size="8.6" font-weight="bold">16</text>
<text transform="translate(318.1 403.3) scale(1 0.505)" text-anchor="middle" font-size="8.6" font-weight="bold">20</text>
<text transform="translate(338.1 403.3) scale(1 0.505)" text-anchor="middle" font-size="8.6" font-weight="bold">24</text>
<text transform="translate(234.6 350.8) scale(1 0.67)" font-size="8.0" font-weight="bold" textLength="54.7" lengthAdjust="spacingAndGlyphs">Subject no: 224</text>
<text transform="translate(278.1 411.2) scale(1 0.72)" text-anchor="middle" font-size="7.6" font-weight="bold" textLength="73.0" lengthAdjust="spacingAndGlyphs">Elapsed time (hours)</text>
<path d="M375.5 391.3 C378 389.4 386.3 382.2 390.5 379.7 C394.7 377.2 397.2 376.8 400.5 376.3 C403.8 375.9 406.3 375.9 410.5 377 C414.7 378.1 421.3 381.4 425.5 383.1 C429.7 384.9 431.3 386.3 435.5 387.2 C439.7 388.2 445.5 387.7 450.5 388.6 C455.5 389.5 461.3 391.3 465.5 392.7 C469.7 394.1 473.8 396.1 475.5 396.8" fill="none" stroke="#2a2a2a" stroke-width="1.05"/>
<path d="M375.5 394.8 C378 393 386.3 386.8 390.5 384.5 C394.7 382.2 397.2 381.7 400.5 381.1 C403.8 380.5 406.3 381 410.5 381.1 C414.7 381.2 421.3 380.9 425.5 381.8 C429.7 382.7 432.2 385.2 435.5 386.6 C438.8 387.9 442.2 389.2 445.5 390 C448.8 390.8 452.2 390.5 455.5 391.3 C458.8 392.1 462.2 393.8 465.5 394.8 C468.8 395.7 473.8 396.5 475.5 396.8" fill="none" stroke="#1a1a1a" stroke-width="1.4"/>
<path d="M375.5 389.3 C378 388.8 385.5 387.1 390.5 386.6 C395.5 386 401.3 385.6 405.5 385.9 C409.7 386.1 412.2 387 415.5 387.9 C418.8 388.8 422.2 390.3 425.5 391.3 C428.8 392.4 432.2 394.1 435.5 394.1 C438.8 394.1 442.2 391.5 445.5 391.3 C448.8 391.2 452.2 393.4 455.5 393.4 C458.8 393.4 462.2 391.7 465.5 391.3 C468.8 391 472.2 391 475.5 391.3 C478.8 391.7 482.2 392.5 485.5 393.4 C488.8 394.3 493.8 396.2 495.5 396.8" fill="none" stroke="#1a1a1a" stroke-width="1.3" stroke-dasharray="4 2.2"/>
<path d="M375.5 395.4 C378 393.6 386.3 386.7 390.5 384.5 C394.7 382.3 397.2 382.3 400.5 382.5 C403.8 382.6 407.2 384.1 410.5 385.2 C413.8 386.3 416.3 388.4 420.5 389.3 C424.7 390.2 430.5 390.5 435.5 390.7 C440.5 390.8 445.5 389.5 450.5 390 C455.5 390.4 461.3 392.2 465.5 393.4 C469.7 394.5 473.8 396.2 475.5 396.8" fill="none" stroke="#2a2a2a" stroke-width="1.05"/>
<path d="M375.5 396.8H496" stroke="#8a8a8a" stroke-width="1.6"/>
<path d="M375.5 396.8v2.2M395.5 396.8v2.2M415.5 396.8v2.2M435.5 396.8v2.2M455.5 396.8v2.2M475.5 396.8v2.2M495.5 396.8v2.2" stroke="#222" stroke-width="0.9"/>
<path d="M375.5 348.5V398.3" stroke="#111" stroke-width="1.1"/>
<path d="M371.5 396.8h4.0M371.5 390h4.0M371.5 383.1h4.0M371.5 376.3h4.0M371.5 369.5h4.0M371.5 362.7h4.0M371.5 355.8h4.0M371.5 349h4.0" stroke="#444" stroke-width="0.9"/>
<text transform="translate(366.7 398.4) scale(1 0.505)" text-anchor="middle" font-size="8.6" font-weight="bold">0</text>
<text transform="translate(366.7 391.5) scale(1 0.505)" text-anchor="middle" font-size="8.6" font-weight="bold">1</text>
<text transform="translate(366.7 384.7) scale(1 0.505)" text-anchor="middle" font-size="8.6" font-weight="bold">2</text>
<text transform="translate(366.7 377.9) scale(1 0.505)" text-anchor="middle" font-size="8.6" font-weight="bold">3</text>
<text transform="translate(366.7 371) scale(1 0.505)" text-anchor="middle" font-size="8.6" font-weight="bold">4</text>
<text transform="translate(366.7 364.2) scale(1 0.505)" text-anchor="middle" font-size="8.6" font-weight="bold">5</text>
<text transform="translate(366.7 357.4) scale(1 0.505)" text-anchor="middle" font-size="8.6" font-weight="bold">6</text>
<text transform="translate(366.7 350.6) scale(1 0.505)" text-anchor="middle" font-size="8.6" font-weight="bold">7</text>
<text transform="translate(375.5 403.7) scale(1 0.505)" text-anchor="middle" font-size="8.6" font-weight="bold">0</text>
<text transform="translate(395.5 403.7) scale(1 0.505)" text-anchor="middle" font-size="8.6" font-weight="bold">4</text>
<text transform="translate(415.5 403.7) scale(1 0.505)" text-anchor="middle" font-size="8.6" font-weight="bold">8</text>
<text transform="translate(435.5 403.7) scale(1 0.505)" text-anchor="middle" font-size="8.6" font-weight="bold">12</text>
<text transform="translate(455.5 403.7) scale(1 0.505)" text-anchor="middle" font-size="8.6" font-weight="bold">16</text>
<text transform="translate(475.5 403.7) scale(1 0.505)" text-anchor="middle" font-size="8.6" font-weight="bold">20</text>
<text transform="translate(495.5 403.7) scale(1 0.505)" text-anchor="middle" font-size="8.6" font-weight="bold">24</text>
<text transform="translate(392 350.8) scale(1 0.67)" font-size="8.0" font-weight="bold" textLength="54.7" lengthAdjust="spacingAndGlyphs">Subject no: 228</text>
<text transform="translate(435.5 411.6) scale(1 0.72)" text-anchor="middle" font-size="7.6" font-weight="bold" textLength="73.0" lengthAdjust="spacingAndGlyphs">Elapsed time (hours)</text>
<path d="M52.5 464.6 C54.2 465 59.4 467 62.9 466.7 C66.4 466.5 68.1 464 73.3 463.2 C78.5 462.4 87.5 462.4 94.1 461.8 C100.7 461.1 105.9 459 112.8 459.3 C119.8 459.5 129.3 462.5 135.7 463.2 C142.1 463.8 147 462.6 151.3 463.2 C155.6 463.8 157.4 465.7 161.7 466.7 C166 467.8 174.7 469.1 177.3 469.6" fill="none" stroke="#1a1a1a" stroke-width="1.3" stroke-dasharray="4 2.2"/>
<path d="M52.5 468.2 C56 467.8 66.4 466.3 73.3 466 C80.2 465.8 87.2 466.7 94.1 466.7 C101 466.7 108 465.8 114.9 466 C121.8 466.3 128.8 467.7 135.7 468.2 C142.6 468.6 149.6 468.5 156.5 468.9 C163.4 469.2 173.8 470.1 177.3 470.3" fill="none" stroke="#1a1a1a" stroke-width="1.4"/>
<path d="M52.5 466.7 C56 466.7 66.4 466.3 73.3 466.7 C80.2 467.2 87.2 469.2 94.1 469.6 C101 469.9 108 469 114.9 468.9 C121.8 468.8 128.8 468.8 135.7 468.9 C142.6 469 149.6 469.4 156.5 469.6 C163.4 469.8 173.8 470.2 177.3 470.3" fill="none" stroke="#2a2a2a" stroke-width="1.05"/>
<path d="M52.5 468.9 C56 468.6 66.4 467.8 73.3 467.5 C80.2 467.1 88 467.2 94.1 466.7 C100.2 466.3 104.5 464.6 109.7 464.6 C114.9 464.6 119.2 466.1 125.3 466.7 C131.4 467.3 139.2 467.9 146.1 468.2 C153 468.4 161.7 467.9 166.9 468.2 C172.1 468.4 175.6 469.4 177.3 469.6" fill="none" stroke="#2a2a2a" stroke-width="1.05" stroke-dasharray="2 1.4"/>
<path d="M52.5 470.3H177.8" stroke="#8a8a8a" stroke-width="1.6"/>
<path d="M52.5 470.3v2.2M73.3 470.3v2.2M94.1 470.3v2.2M114.9 470.3v2.2M135.7 470.3v2.2M156.5 470.3v2.2M177.3 470.3v2.2" stroke="#222" stroke-width="0.9"/>
<path d="M52.5 420V471.8" stroke="#111" stroke-width="1.1"/>
<path d="M48.5 470.3h4.0M48.5 463.2h4.0M48.5 456.1h4.0M48.5 449h4.0M48.5 441.8h4.0M48.5 434.7h4.0M48.5 427.6h4.0M48.5 420.5h4.0" stroke="#444" stroke-width="0.9"/>
<text transform="translate(43.3 471.8) scale(1 0.495)" text-anchor="middle" font-size="8.6" font-weight="bold">0</text>
<text transform="translate(43.3 464.7) scale(1 0.495)" text-anchor="middle" font-size="8.6" font-weight="bold">1</text>
<text transform="translate(43.3 457.6) scale(1 0.495)" text-anchor="middle" font-size="8.6" font-weight="bold">2</text>
<text transform="translate(43.3 450.5) scale(1 0.495)" text-anchor="middle" font-size="8.6" font-weight="bold">3</text>
<text transform="translate(43.3 443.4) scale(1 0.495)" text-anchor="middle" font-size="8.6" font-weight="bold">4</text>
<text transform="translate(43.3 436.3) scale(1 0.495)" text-anchor="middle" font-size="8.6" font-weight="bold">5</text>
<text transform="translate(43.3 429.1) scale(1 0.495)" text-anchor="middle" font-size="8.6" font-weight="bold">6</text>
<text transform="translate(43.3 422) scale(1 0.495)" text-anchor="middle" font-size="8.6" font-weight="bold">7</text>
<text transform="translate(52.5 477.1) scale(1 0.495)" text-anchor="middle" font-size="8.6" font-weight="bold">0</text>
<text transform="translate(73.3 477.1) scale(1 0.495)" text-anchor="middle" font-size="8.6" font-weight="bold">4</text>
<text transform="translate(94.1 477.1) scale(1 0.495)" text-anchor="middle" font-size="8.6" font-weight="bold">8</text>
<text transform="translate(114.9 477.1) scale(1 0.495)" text-anchor="middle" font-size="8.6" font-weight="bold">12</text>
<text transform="translate(135.7 477.1) scale(1 0.495)" text-anchor="middle" font-size="8.6" font-weight="bold">16</text>
<text transform="translate(156.5 477.1) scale(1 0.495)" text-anchor="middle" font-size="8.6" font-weight="bold">20</text>
<text transform="translate(177.3 477.1) scale(1 0.495)" text-anchor="middle" font-size="8.6" font-weight="bold">24</text>
<text transform="translate(68 423.7) scale(1 0.71)" font-size="8.0" font-weight="bold" textLength="56.6" lengthAdjust="spacingAndGlyphs">Subject no: 201</text>
<text transform="translate(34.1 445.4) rotate(-90)" text-anchor="middle" font-size="7.0" font-weight="bold" fill="#222" textLength="32.0" lengthAdjust="spacingAndGlyphs">GIR (mg/kg/min)</text>
<path d="M218.2 462.1 C219.9 462.9 226 465.8 228.6 467.1 C231.2 468.4 232.1 469.3 233.8 469.9 C235.5 470.5 220.8 470.5 239 470.6 C257.2 470.7 325.7 470.6 343 470.6" fill="none" stroke="#1a1a1a" stroke-width="1.4"/>
<path d="M218.2 467.8 C219.9 467.9 225.1 469.1 228.6 468.5 C232.1 467.9 235.5 465.2 239 464.2 C242.5 463.3 244.2 463.4 249.4 462.8 C254.6 462.2 265 460.9 270.2 460.7 C275.4 460.4 277.1 460.9 280.6 461.4 C284.1 461.9 287.5 462.9 291 463.5 C294.5 464.1 297.9 464.3 301.4 464.9 C304.9 465.5 308.3 466.3 311.8 467.1 C315.3 467.8 318.7 468.9 322.2 469.2 C325.7 469.4 329.1 468.8 332.6 468.5 C336.1 468.1 341.3 467.3 343 467.1" fill="none" stroke="#2a2a2a" stroke-width="1.05"/>
<path d="M218.2 469.2 C221.7 469.1 232.1 468.8 239 468.5 C245.9 468.1 252.9 467.9 259.8 467.1 C266.7 466.2 275.4 464.2 280.6 463.5 C285.8 462.8 287.5 462.7 291 462.8 C294.5 462.9 297.9 464.9 301.4 464.2 C304.9 463.5 308.3 458.6 311.8 458.6 C315.3 458.6 319.6 462.6 322.2 464.2 C324.8 465.9 323.9 470 327.4 468.5 C330.9 466.9 340.4 457.3 343 455" fill="none" stroke="#1a1a1a" stroke-width="1.3" stroke-dasharray="4 2.2"/>
<path d="M218.2 468.5 C221.7 468.8 232.1 470.4 239 470.6 C245.9 470.8 252.9 469.9 259.8 469.9 C266.7 469.9 273.7 470.7 280.6 470.6 C287.5 470.5 294.5 469.8 301.4 469.2 C308.3 468.6 315.3 467.5 322.2 467.1 C329.1 466.6 339.5 466.5 343 466.3" fill="none" stroke="#2a2a2a" stroke-width="1.05" stroke-dasharray="2 1.4"/>
<path d="M218.2 470.6H343.5" stroke="#8a8a8a" stroke-width="1.6"/>
<path d="M218.2 470.6v2.2M239 470.6v2.2M259.8 470.6v2.2M280.6 470.6v2.2M301.4 470.6v2.2M322.2 470.6v2.2M343 470.6v2.2" stroke="#222" stroke-width="0.9"/>
<path d="M218.2 420.5V472.1" stroke="#111" stroke-width="1.1"/>
<path d="M214.2 470.6h4.0M214.2 463.5h4.0M214.2 456.4h4.0M214.2 449.3h4.0M214.2 442.3h4.0M214.2 435.2h4.0M214.2 428.1h4.0M214.2 421h4.0" stroke="#444" stroke-width="0.9"/>
<text transform="translate(209 472.1) scale(1 0.495)" text-anchor="middle" font-size="8.6" font-weight="bold">0</text>
<text transform="translate(209 465) scale(1 0.495)" text-anchor="middle" font-size="8.6" font-weight="bold">1</text>
<text transform="translate(209 458) scale(1 0.495)" text-anchor="middle" font-size="8.6" font-weight="bold">2</text>
<text transform="translate(209 450.9) scale(1 0.495)" text-anchor="middle" font-size="8.6" font-weight="bold">3</text>
<text transform="translate(209 443.8) scale(1 0.495)" text-anchor="middle" font-size="8.6" font-weight="bold">4</text>
<text transform="translate(209 436.7) scale(1 0.495)" text-anchor="middle" font-size="8.6" font-weight="bold">5</text>
<text transform="translate(209 429.6) scale(1 0.495)" text-anchor="middle" font-size="8.6" font-weight="bold">6</text>
<text transform="translate(209 422.5) scale(1 0.495)" text-anchor="middle" font-size="8.6" font-weight="bold">7</text>
<text transform="translate(218.2 477.4) scale(1 0.495)" text-anchor="middle" font-size="8.6" font-weight="bold">0</text>
<text transform="translate(239 477.4) scale(1 0.495)" text-anchor="middle" font-size="8.6" font-weight="bold">4</text>
<text transform="translate(259.8 477.4) scale(1 0.495)" text-anchor="middle" font-size="8.6" font-weight="bold">8</text>
<text transform="translate(280.6 477.4) scale(1 0.495)" text-anchor="middle" font-size="8.6" font-weight="bold">12</text>
<text transform="translate(301.4 477.4) scale(1 0.495)" text-anchor="middle" font-size="8.6" font-weight="bold">16</text>
<text transform="translate(322.2 477.4) scale(1 0.495)" text-anchor="middle" font-size="8.6" font-weight="bold">20</text>
<text transform="translate(343 477.4) scale(1 0.495)" text-anchor="middle" font-size="8.6" font-weight="bold">24</text>
<text transform="translate(234.6 423.7) scale(1 0.71)" font-size="8.0" font-weight="bold" textLength="56.6" lengthAdjust="spacingAndGlyphs">Subject no: 206</text>
<path d="M376.4 467.5 C379.9 466.3 390.3 462.5 397.2 460.4 C404.1 458.2 411.1 455.1 418 454.7 C424.9 454.3 433.6 457.3 438.8 458.2 C444 459.2 445.7 459.3 449.2 460.4 C452.7 461.4 456.1 463.2 459.6 464.6 C463.1 466 467.4 467.8 470 468.9 C472.6 469.9 473.5 470.9 475.2 471 C476.9 471.1 477.8 470.2 480.4 469.6 C483 469 487.3 468.2 490.8 467.5 C494.3 466.7 499.5 465.7 501.2 465.3" fill="none" stroke="#1a1a1a" stroke-width="1.4"/>
<path d="M376.4 467.5 C379 466.5 387.7 463.6 392 461.8 C396.3 460 398.1 457.2 402.4 456.8 C406.7 456.5 411.9 459.4 418 459.7 C424.1 459.9 431.9 458.2 438.8 458.2 C445.7 458.2 454.4 458.5 459.6 459.7 C464.8 460.8 466.5 463.7 470 465.3 C473.5 467 476.9 468.6 480.4 469.6 C483.9 470.5 489.1 470.8 490.8 471" fill="none" stroke="#1a1a1a" stroke-width="1.3" stroke-dasharray="4 2.2"/>
<path d="M376.4 463.2 C379.9 463 392 462.1 397.2 461.8 C402.4 461.4 404.1 460.7 407.6 461.1 C411.1 461.4 412.8 463.1 418 463.9 C423.2 464.7 431.9 465.4 438.8 466 C445.7 466.6 453.5 466.6 459.6 467.5 C465.7 468.3 470.9 471.1 475.2 471 C479.5 470.9 481.3 467 485.6 466.7 C489.9 466.5 498.6 469.1 501.2 469.6" fill="none" stroke="#2a2a2a" stroke-width="1.05"/>
<path d="M376.4 466.7 C379.9 466.7 390.3 467 397.2 466.7 C404.1 466.5 411.1 465.2 418 465.3 C424.9 465.4 431.9 466.7 438.8 467.5 C445.7 468.2 453.5 469 459.6 469.6 C465.7 470.2 468.3 470.8 475.2 471 C482.1 471.2 496.9 471 501.2 471" fill="none" stroke="#2a2a2a" stroke-width="1.05" stroke-dasharray="2 1.4"/>
<path d="M376.4 471H501.7" stroke="#8a8a8a" stroke-width="1.6"/>
<path d="M376.4 471v2.2M397.2 471v2.2M418 471v2.2M438.8 471v2.2M459.6 471v2.2M480.4 471v2.2M501.2 471v2.2" stroke="#222" stroke-width="0.9"/>
<path d="M376.4 420.9V472.5" stroke="#111" stroke-width="1.1"/>
<path d="M372.4 471h4.0M372.4 463.9h4.0M372.4 456.8h4.0M372.4 449.7h4.0M372.4 442.7h4.0M372.4 435.6h4.0M372.4 428.5h4.0M372.4 421.4h4.0" stroke="#444" stroke-width="0.9"/>
<text transform="translate(367.2 472.5) scale(1 0.495)" text-anchor="middle" font-size="8.6" font-weight="bold">0</text>
<text transform="translate(367.2 465.4) scale(1 0.495)" text-anchor="middle" font-size="8.6" font-weight="bold">1</text>
<text transform="translate(367.2 458.4) scale(1 0.495)" text-anchor="middle" font-size="8.6" font-weight="bold">2</text>
<text transform="translate(367.2 451.3) scale(1 0.495)" text-anchor="middle" font-size="8.6" font-weight="bold">3</text>
<text transform="translate(367.2 444.2) scale(1 0.495)" text-anchor="middle" font-size="8.6" font-weight="bold">4</text>
<text transform="translate(367.2 437.1) scale(1 0.495)" text-anchor="middle" font-size="8.6" font-weight="bold">5</text>
<text transform="translate(367.2 430) scale(1 0.495)" text-anchor="middle" font-size="8.6" font-weight="bold">6</text>
<text transform="translate(367.2 422.9) scale(1 0.495)" text-anchor="middle" font-size="8.6" font-weight="bold">7</text>
<text transform="translate(376.4 477.8) scale(1 0.495)" text-anchor="middle" font-size="8.6" font-weight="bold">0</text>
<text transform="translate(397.2 477.8) scale(1 0.495)" text-anchor="middle" font-size="8.6" font-weight="bold">4</text>
<text transform="translate(418 477.8) scale(1 0.495)" text-anchor="middle" font-size="8.6" font-weight="bold">8</text>
<text transform="translate(438.8 477.8) scale(1 0.495)" text-anchor="middle" font-size="8.6" font-weight="bold">12</text>
<text transform="translate(459.6 477.8) scale(1 0.495)" text-anchor="middle" font-size="8.6" font-weight="bold">16</text>
<text transform="translate(480.4 477.8) scale(1 0.495)" text-anchor="middle" font-size="8.6" font-weight="bold">20</text>
<text transform="translate(501.2 477.8) scale(1 0.495)" text-anchor="middle" font-size="8.6" font-weight="bold">24</text>
<text transform="translate(395 423.7) scale(1 0.71)" font-size="8.0" font-weight="bold" textLength="56.6" lengthAdjust="spacingAndGlyphs">Subject no: 208</text>
<path d="M51.8 528.8 C54.4 528.4 63.4 527 67.4 526.3 C71.4 525.6 72.3 525.2 75.7 524.6 C79.2 523.9 83.7 523.6 88.2 522.5 C92.7 521.3 98.2 518 102.5 517.5 C106.8 517.1 110.3 519 114.2 520 C118.1 521 122.2 522.8 125.6 523.7 C129.1 524.7 131.7 524.9 135 525.6 C138.3 526.4 141.5 527.2 145.4 528.5 C149.3 529.7 154.9 532.3 158.4 533.4 C161.9 534.5 163.2 535 166.2 535.1 C169.2 535.3 174.9 534.3 176.6 534.1" fill="none" stroke="#2a2a2a" stroke-width="1.05" stroke-dasharray="2 1.4"/>
<path d="M51.8 529.2 C53.5 529.5 58.7 531 62.2 531.3 C65.7 531.5 67.4 530.9 72.6 530.6 C77.8 530.2 88.2 529.6 93.4 529.2 C98.6 528.7 100.1 528.2 103.8 527.8 C107.5 527.3 112.3 526.8 115.8 526.7 C119.2 526.6 121.4 526.6 124.6 527 C127.8 527.5 131.5 528.6 135 529.2 C138.5 529.7 141.1 529.7 145.4 530.6 C149.7 531.4 155.8 533.4 161 534.1 C166.2 534.8 174 534.7 176.6 534.8" fill="none" stroke="#1a1a1a" stroke-width="1.3" stroke-dasharray="4 2.2"/>
<path d="M51.8 532 C53.5 532.2 58.7 533.4 62.2 533.4 C65.7 533.4 67.4 532.3 72.6 532 C77.8 531.6 86.5 531.5 93.4 531.3 C100.3 531 109 530.5 114.2 530.6 C119.4 530.7 122 531.2 124.6 532 C127.2 532.8 121.1 534.9 129.8 535.5 C138.5 536.1 168.8 535.5 176.6 535.5" fill="none" stroke="#1a1a1a" stroke-width="1.4"/>
<path d="M51.8 529.2 C55.3 529.4 65.7 530.6 72.6 530.6 C79.5 530.6 86.5 529.3 93.4 529.2 C100.3 529 107.3 529.5 114.2 529.9 C121.1 530.2 128.1 530.6 135 531.3 C141.9 532 148.9 533.4 155.8 534.1 C162.7 534.8 173.1 535.3 176.6 535.5" fill="none" stroke="#2a2a2a" stroke-width="1.05"/>
<path d="M51.8 535.5H177.1" stroke="#8a8a8a" stroke-width="1.6"/>
<path d="M51.8 535.5v2.2M72.6 535.5v2.2M93.4 535.5v2.2M114.2 535.5v2.2M135 535.5v2.2M155.8 535.5v2.2M176.6 535.5v2.2" stroke="#222" stroke-width="0.9"/>
<path d="M51.8 485.7V537" stroke="#111" stroke-width="1.1"/>
<path d="M47.8 535.5h4.0M47.8 528.5h4.0M47.8 521.4h4.0M47.8 514.4h4.0M47.8 507.3h4.0M47.8 500.3h4.0M47.8 493.2h4.0M47.8 486.2h4.0" stroke="#444" stroke-width="0.9"/>
<text transform="translate(42.6 537) scale(1 0.495)" text-anchor="middle" font-size="8.6" font-weight="bold">0</text>
<text transform="translate(42.6 530) scale(1 0.495)" text-anchor="middle" font-size="8.6" font-weight="bold">1</text>
<text transform="translate(42.6 522.9) scale(1 0.495)" text-anchor="middle" font-size="8.6" font-weight="bold">2</text>
<text transform="translate(42.6 515.9) scale(1 0.495)" text-anchor="middle" font-size="8.6" font-weight="bold">3</text>
<text transform="translate(42.6 508.9) scale(1 0.495)" text-anchor="middle" font-size="8.6" font-weight="bold">4</text>
<text transform="translate(42.6 501.8) scale(1 0.495)" text-anchor="middle" font-size="8.6" font-weight="bold">5</text>
<text transform="translate(42.6 494.8) scale(1 0.495)" text-anchor="middle" font-size="8.6" font-weight="bold">6</text>
<text transform="translate(42.6 487.7) scale(1 0.495)" text-anchor="middle" font-size="8.6" font-weight="bold">7</text>
<text transform="translate(51.8 542.3) scale(1 0.495)" text-anchor="middle" font-size="8.6" font-weight="bold">0</text>
<text transform="translate(72.6 542.3) scale(1 0.495)" text-anchor="middle" font-size="8.6" font-weight="bold">4</text>
<text transform="translate(93.4 542.3) scale(1 0.495)" text-anchor="middle" font-size="8.6" font-weight="bold">8</text>
<text transform="translate(114.2 542.3) scale(1 0.495)" text-anchor="middle" font-size="8.6" font-weight="bold">12</text>
<text transform="translate(135 542.3) scale(1 0.495)" text-anchor="middle" font-size="8.6" font-weight="bold">16</text>
<text transform="translate(155.8 542.3) scale(1 0.495)" text-anchor="middle" font-size="8.6" font-weight="bold">20</text>
<text transform="translate(176.6 542.3) scale(1 0.495)" text-anchor="middle" font-size="8.6" font-weight="bold">24</text>
<text transform="translate(68 488.7) scale(1 0.71)" font-size="8.0" font-weight="bold" textLength="56.6" lengthAdjust="spacingAndGlyphs">Subject no: 211</text>
<text transform="translate(33.4 510.9) rotate(-90)" text-anchor="middle" font-size="7.0" font-weight="bold" fill="#222" textLength="32.0" lengthAdjust="spacingAndGlyphs">GIR (mg/kg/min)</text>
<path d="M218.3 535 C220.9 533.2 229.6 526.9 233.9 524.4 C238.2 521.9 240 521.4 244.3 520.2 C248.6 519 255.6 517.5 259.9 517.4 C264.2 517.2 266.8 518.4 270.3 519.5 C273.8 520.5 277.2 522.4 280.7 523.7 C284.2 525 286.8 526.2 291.1 527.2 C295.4 528.3 301.5 529 306.7 530.1 C311.9 531.1 318 532.6 322.3 533.6 C326.6 534.5 331 535.3 332.7 535.7" fill="none" stroke="#2a2a2a" stroke-width="1.05" stroke-dasharray="2 1.4"/>
<path d="M218.3 530.1 C221.8 529.1 232.2 525.8 239.1 524.4 C246 523 254.7 522.1 259.9 521.6 C265.1 521.1 266.8 521.8 270.3 521.6 C273.8 521.4 277.2 519.7 280.7 520.2 C284.2 520.6 287.6 523.2 291.1 524.4 C294.6 525.6 298 526.3 301.5 527.2 C305 528.2 308.4 529.1 311.9 530.1 C315.4 531 318.8 532.2 322.3 532.9 C325.8 533.6 329.2 533.8 332.7 534.3 C336.2 534.8 341.4 535.5 343.1 535.7" fill="none" stroke="#2a2a2a" stroke-width="1.05"/>
<path d="M218.3 534.3 C220 533.3 225.2 529.9 228.7 528.6 C232.2 527.3 233.9 526.8 239.1 526.5 C244.3 526.3 253 527 259.9 527.2 C266.8 527.5 275.5 527.7 280.7 527.9 C285.9 528.2 287.6 527.6 291.1 528.6 C294.6 529.7 298.9 533.1 301.5 534.3 C304.1 535.5 299.8 535.5 306.7 535.7 C313.6 535.9 337 535.7 343.1 535.7" fill="none" stroke="#1a1a1a" stroke-width="1.4"/>
<path d="M218.3 530.1 C220 529.8 225.2 529.1 228.7 528.6 C232.2 528.2 235.6 527.5 239.1 527.2 C242.6 527 246 526.9 249.5 527.2 C253 527.6 256.4 528.6 259.9 529.3 C263.4 530.1 266.8 531 270.3 531.5 C273.8 531.9 277.2 532.1 280.7 532.2 C284.2 532.3 287.6 531.8 291.1 532.2 C294.6 532.5 298 533.7 301.5 534.3 C305 534.9 310.2 535.5 311.9 535.7" fill="none" stroke="#1a1a1a" stroke-width="1.3" stroke-dasharray="4 2.2"/>
<path d="M218.3 535.7H343.6" stroke="#8a8a8a" stroke-width="1.6"/>
<path d="M218.3 535.7v2.2M239.1 535.7v2.2M259.9 535.7v2.2M280.7 535.7v2.2M301.5 535.7v2.2M322.3 535.7v2.2M343.1 535.7v2.2" stroke="#222" stroke-width="0.9"/>
<path d="M218.3 485.8V537.2" stroke="#111" stroke-width="1.1"/>
<path d="M214.3 535.7h4.0M214.3 528.6h4.0M214.3 521.6h4.0M214.3 514.5h4.0M214.3 507.5h4.0M214.3 500.4h4.0M214.3 493.4h4.0M214.3 486.3h4.0" stroke="#444" stroke-width="0.9"/>
<text transform="translate(209.1 537.2) scale(1 0.495)" text-anchor="middle" font-size="8.6" font-weight="bold">0</text>
<text transform="translate(209.1 530.2) scale(1 0.495)" text-anchor="middle" font-size="8.6" font-weight="bold">1</text>
<text transform="translate(209.1 523.1) scale(1 0.495)" text-anchor="middle" font-size="8.6" font-weight="bold">2</text>
<text transform="translate(209.1 516.1) scale(1 0.495)" text-anchor="middle" font-size="8.6" font-weight="bold">3</text>
<text transform="translate(209.1 509) scale(1 0.495)" text-anchor="middle" font-size="8.6" font-weight="bold">4</text>
<text transform="translate(209.1 501.9) scale(1 0.495)" text-anchor="middle" font-size="8.6" font-weight="bold">5</text>
<text transform="translate(209.1 494.9) scale(1 0.495)" text-anchor="middle" font-size="8.6" font-weight="bold">6</text>
<text transform="translate(209.1 487.8) scale(1 0.495)" text-anchor="middle" font-size="8.6" font-weight="bold">7</text>
<text transform="translate(218.3 542.5) scale(1 0.495)" text-anchor="middle" font-size="8.6" font-weight="bold">0</text>
<text transform="translate(239.1 542.5) scale(1 0.495)" text-anchor="middle" font-size="8.6" font-weight="bold">4</text>
<text transform="translate(259.9 542.5) scale(1 0.495)" text-anchor="middle" font-size="8.6" font-weight="bold">8</text>
<text transform="translate(280.7 542.5) scale(1 0.495)" text-anchor="middle" font-size="8.6" font-weight="bold">12</text>
<text transform="translate(301.5 542.5) scale(1 0.495)" text-anchor="middle" font-size="8.6" font-weight="bold">16</text>
<text transform="translate(322.3 542.5) scale(1 0.495)" text-anchor="middle" font-size="8.6" font-weight="bold">20</text>
<text transform="translate(343.1 542.5) scale(1 0.495)" text-anchor="middle" font-size="8.6" font-weight="bold">24</text>
<text transform="translate(234 489.5) scale(1 0.71)" font-size="8.0" font-weight="bold" textLength="56.6" lengthAdjust="spacingAndGlyphs">Subject no: 213</text>
<path d="M376.4 533.9 C379.9 534.2 390.3 536.5 397.2 536 C404.1 535.5 411.1 533 418 531 C424.9 529 433.6 525.6 438.8 523.9 C444 522.3 445.7 521.4 449.2 521.1 C452.7 520.7 456.1 521.1 459.6 521.8 C463.1 522.5 466.5 523.9 470 525.4 C473.5 526.8 476.9 528.8 480.4 530.3 C483.9 531.9 488.2 533.6 490.8 534.6 C493.4 535.5 495.1 535.8 496 536" fill="none" stroke="#1a1a1a" stroke-width="1.4"/>
<path d="M376.4 533.9 C379 533.2 387.7 530.9 392 529.6 C396.3 528.3 398.8 527.2 402.4 526.1 C406 524.9 409.5 523.5 413.8 522.9 C418.2 522.3 424.2 522.7 428.4 522.5 C432.6 522.3 435.3 521.9 438.8 521.8 C442.3 521.7 445.7 521.4 449.2 521.8 C452.7 522.2 456.1 522.9 459.6 523.9 C463.1 525 466.5 526.9 470 528.2 C473.5 529.5 475.2 530.8 480.4 531.7 C485.6 532.7 497.7 533.5 501.2 533.9" fill="none" stroke="#1a1a1a" stroke-width="1.3" stroke-dasharray="4 2.2"/>
<path d="M376.4 528.9 C379.9 529.4 390.3 531.1 397.2 531.7 C404.1 532.3 412.8 532.9 418 532.5 C423.2 532 424.9 530.6 428.4 528.9 C431.9 527.2 435.3 523.7 438.8 522.5 C442.3 521.3 445.7 521.8 449.2 521.8 C452.7 521.8 456.1 521.9 459.6 522.5 C463.1 523.1 466.5 524 470 525.4 C473.5 526.7 476.9 529.4 480.4 530.3 C483.9 531.3 487.3 530.8 490.8 531 C494.3 531.3 499.5 531.6 501.2 531.7" fill="none" stroke="#2a2a2a" stroke-width="1.05"/>
<path d="M376.4 531.7 C379.9 531.9 390.3 532.8 397.2 532.5 C404.1 532.1 411.1 530.6 418 529.6 C424.9 528.7 433.6 526.9 438.8 526.8 C444 526.7 445.7 528.7 449.2 528.9 C452.7 529.1 456.1 528 459.6 528.2 C463.1 528.4 466.5 529.7 470 530.3 C473.5 530.9 475.2 531.4 480.4 531.7 C485.6 532.1 497.7 532.3 501.2 532.5" fill="none" stroke="#2a2a2a" stroke-width="1.05" stroke-dasharray="2 1.4"/>
<path d="M376.4 536H501.7" stroke="#8a8a8a" stroke-width="1.6"/>
<path d="M376.4 536v2.2M397.2 536v2.2M418 536v2.2M438.8 536v2.2M459.6 536v2.2M480.4 536v2.2M501.2 536v2.2" stroke="#222" stroke-width="0.9"/>
<path d="M376.4 485.8V537.5" stroke="#111" stroke-width="1.1"/>
<path d="M372.4 536h4.0M372.4 528.9h4.0M372.4 521.8h4.0M372.4 514.7h4.0M372.4 507.6h4.0M372.4 500.5h4.0M372.4 493.4h4.0M372.4 486.3h4.0" stroke="#444" stroke-width="0.9"/>
<text transform="translate(367.2 537.5) scale(1 0.495)" text-anchor="middle" font-size="8.6" font-weight="bold">0</text>
<text transform="translate(367.2 530.4) scale(1 0.495)" text-anchor="middle" font-size="8.6" font-weight="bold">1</text>
<text transform="translate(367.2 523.3) scale(1 0.495)" text-anchor="middle" font-size="8.6" font-weight="bold">2</text>
<text transform="translate(367.2 516.2) scale(1 0.495)" text-anchor="middle" font-size="8.6" font-weight="bold">3</text>
<text transform="translate(367.2 509.1) scale(1 0.495)" text-anchor="middle" font-size="8.6" font-weight="bold">4</text>
<text transform="translate(367.2 502) scale(1 0.495)" text-anchor="middle" font-size="8.6" font-weight="bold">5</text>
<text transform="translate(367.2 494.9) scale(1 0.495)" text-anchor="middle" font-size="8.6" font-weight="bold">6</text>
<text transform="translate(367.2 487.8) scale(1 0.495)" text-anchor="middle" font-size="8.6" font-weight="bold">7</text>
<text transform="translate(376.4 542.8) scale(1 0.495)" text-anchor="middle" font-size="8.6" font-weight="bold">0</text>
<text transform="translate(397.2 542.8) scale(1 0.495)" text-anchor="middle" font-size="8.6" font-weight="bold">4</text>
<text transform="translate(418 542.8) scale(1 0.495)" text-anchor="middle" font-size="8.6" font-weight="bold">8</text>
<text transform="translate(438.8 542.8) scale(1 0.495)" text-anchor="middle" font-size="8.6" font-weight="bold">12</text>
<text transform="translate(459.6 542.8) scale(1 0.495)" text-anchor="middle" font-size="8.6" font-weight="bold">16</text>
<text transform="translate(480.4 542.8) scale(1 0.495)" text-anchor="middle" font-size="8.6" font-weight="bold">20</text>
<text transform="translate(501.2 542.8) scale(1 0.495)" text-anchor="middle" font-size="8.6" font-weight="bold">24</text>
<text transform="translate(393.6 489.5) scale(1 0.71)" font-size="8.0" font-weight="bold" textLength="56.6" lengthAdjust="spacingAndGlyphs">Subject no: 217</text>
<path d="M54.1 592.5 C56.7 591.7 64.9 589.4 69.7 587.9 C74.5 586.5 78.9 585.1 82.7 583.7 C86.5 582.3 90 581.3 92.6 579.5 C95.2 577.8 96 575.5 98.3 573.3 C100.6 571 103.8 568 106.1 566.3 C108.4 564.6 110.2 563.2 112.3 563.1 C114.5 563 116.6 563.7 119.1 565.6 C121.6 567.5 124 571.9 127.4 574.7 C130.9 577.4 136.1 580.2 139.9 582.3 C143.7 584.4 146.8 585.2 150.3 587.2 C153.8 589.2 157.7 592.5 160.7 594.2 C163.7 596 165.5 597.5 168.5 597.7 C171.5 597.9 177.2 596 178.9 595.6" fill="none" stroke="#2a2a2a" stroke-width="1.05"/>
<path d="M59.3 601.2 C61.9 600 68.8 596.3 74.9 594.2 C81 592.1 90.5 590.6 95.7 588.6 C100.9 586.6 103.1 584.2 106.1 582.3 C109.1 580.5 111.3 578.1 113.9 577.4 C116.5 576.8 117.8 576.8 121.7 578.1 C125.6 579.5 133 584.3 137.3 585.8 C141.6 587.3 144.2 586.8 147.7 587.2 C151.2 587.7 154.6 587.9 158.1 588.6 C161.6 589.3 165 590.3 168.5 591.4 C172 592.6 177.2 594.9 178.9 595.6" fill="none" stroke="#1a1a1a" stroke-width="1.3" stroke-dasharray="4 2.2"/>
<path d="M54.1 587.2 C57.6 587.5 68.8 588 74.9 588.6 C81 589.2 86.6 590.5 90.5 590.7 C94.4 591 95.7 591.3 98.3 590 C100.9 588.7 103.4 585.5 106.1 583 C108.8 580.6 111 576.5 114.4 575.4 C117.9 574.2 121.4 575.7 126.9 576.1 C132.4 576.4 142.5 576.8 147.7 577.4 C152.9 578.1 154.6 578.4 158.1 580.2 C161.6 582.1 165 585.9 168.5 588.6 C172 591.3 177.2 595 178.9 596.3" fill="none" stroke="#1a1a1a" stroke-width="1.4"/>
<path d="M54.1 584.4 C56.7 583.5 62.8 579.8 69.7 578.8 C76.6 577.9 89.6 578.6 95.7 578.8 C101.8 579.1 102.6 579.4 106.1 580.2 C109.6 581.1 111.3 581.6 116.5 583.7 C121.7 585.8 130.4 590.3 137.3 592.8 C144.2 595.4 152.9 597.8 158.1 599.1 C163.3 600.4 165 600.5 168.5 600.5 C172 600.5 177.2 599.3 178.9 599.1" fill="none" stroke="#2a2a2a" stroke-width="1.05"/>
<path d="M54.1 601.2H179.4" stroke="#8a8a8a" stroke-width="1.6"/>
<path d="M54.1 601.2v2.2M74.9 601.2v2.2M95.7 601.2v2.2M116.5 601.2v2.2M137.3 601.2v2.2M158.1 601.2v2.2M178.9 601.2v2.2" stroke="#222" stroke-width="0.9"/>
<path d="M54.1 551.8V602.7" stroke="#111" stroke-width="1.1"/>
<path d="M50.1 601.2h4.0M50.1 594.2h4.0M50.1 587.2h4.0M50.1 580.2h4.0M50.1 573.3h4.0M50.1 566.3h4.0M50.1 559.3h4.0M50.1 552.3h4.0" stroke="#444" stroke-width="0.9"/>
<text transform="translate(44.9 602.7) scale(1 0.495)" text-anchor="middle" font-size="8.6" font-weight="bold">0</text>
<text transform="translate(44.9 595.7) scale(1 0.495)" text-anchor="middle" font-size="8.6" font-weight="bold">1</text>
<text transform="translate(44.9 588.8) scale(1 0.495)" text-anchor="middle" font-size="8.6" font-weight="bold">2</text>
<text transform="translate(44.9 581.8) scale(1 0.495)" text-anchor="middle" font-size="8.6" font-weight="bold">3</text>
<text transform="translate(44.9 574.8) scale(1 0.495)" text-anchor="middle" font-size="8.6" font-weight="bold">4</text>
<text transform="translate(44.9 567.8) scale(1 0.495)" text-anchor="middle" font-size="8.6" font-weight="bold">5</text>
<text transform="translate(44.9 560.8) scale(1 0.495)" text-anchor="middle" font-size="8.6" font-weight="bold">6</text>
<text transform="translate(44.9 553.8) scale(1 0.495)" text-anchor="middle" font-size="8.6" font-weight="bold">7</text>
<text transform="translate(54.1 608) scale(1 0.495)" text-anchor="middle" font-size="8.6" font-weight="bold">0</text>
<text transform="translate(74.9 608) scale(1 0.495)" text-anchor="middle" font-size="8.6" font-weight="bold">4</text>
<text transform="translate(95.7 608) scale(1 0.495)" text-anchor="middle" font-size="8.6" font-weight="bold">8</text>
<text transform="translate(116.5 608) scale(1 0.495)" text-anchor="middle" font-size="8.6" font-weight="bold">12</text>
<text transform="translate(137.3 608) scale(1 0.495)" text-anchor="middle" font-size="8.6" font-weight="bold">16</text>
<text transform="translate(158.1 608) scale(1 0.495)" text-anchor="middle" font-size="8.6" font-weight="bold">20</text>
<text transform="translate(178.9 608) scale(1 0.495)" text-anchor="middle" font-size="8.6" font-weight="bold">24</text>
<text transform="translate(68 554.5) scale(1 0.71)" font-size="8.0" font-weight="bold" textLength="56.6" lengthAdjust="spacingAndGlyphs">Subject no: 221</text>
<text transform="translate(35.7 576.8) rotate(-90)" text-anchor="middle" font-size="7.0" font-weight="bold" fill="#222" textLength="32.0" lengthAdjust="spacingAndGlyphs">GIR (mg/kg/min)</text>
<text transform="translate(116.5 616.5) scale(1 0.72)" text-anchor="middle" font-size="7.6" font-weight="bold" textLength="75.8" lengthAdjust="spacingAndGlyphs">Elapsed time (hours)</text>
<path d="M218.4 600 C221 599.3 229.7 596.1 234 595.8 C238.3 595.4 240.1 597.4 244.4 597.9 C248.7 598.4 253.9 598.7 260 598.6 C266.1 598.5 274.7 597.5 280.8 597.2 C286.9 596.8 292.1 596.1 296.4 596.5 C300.7 596.8 303.3 598.5 306.8 599.3 C310.3 600.1 311.1 601 317.2 601.4 C323.3 601.8 338.9 601.4 343.2 601.4" fill="none" stroke="#2a2a2a" stroke-width="1.05" stroke-dasharray="2 1.4"/>
<path d="M218.4 597.9 C221.9 598.1 234 599.3 239.2 599.3 C244.4 599.3 244.4 598.2 249.6 597.9 C254.8 597.5 264.3 597.7 270.4 597.2 C276.5 596.7 281.7 595.4 286 595.1 C290.3 594.7 292.9 594.5 296.4 595.1 C299.9 595.7 303.3 597.5 306.8 598.6 C310.3 599.6 311.1 600.9 317.2 601.4 C323.3 601.9 338.9 601.4 343.2 601.4" fill="none" stroke="#2a2a2a" stroke-width="1.05"/>
<path d="M218.4 596.5 C221 596.9 229.7 598.5 234 599.3 C238.3 600.1 238.3 601 244.4 601.4 C250.5 601.8 263.5 601.8 270.4 601.4 C277.3 601 281.7 599.9 286 599.3 C290.3 598.7 292.9 597.7 296.4 597.9 C299.9 598.1 304.2 600.1 306.8 600.7 C309.4 601.3 305.9 601.3 312 601.4 C318.1 601.5 338 601.4 343.2 601.4" fill="none" stroke="#1a1a1a" stroke-width="1.4"/>
<path d="M218.4 600.7 C221.9 600.7 232.3 600.6 239.2 600.7 C246.1 600.8 253.1 601.4 260 601.4 C266.9 601.4 274.7 601 280.8 600.7 C286.9 600.3 292.1 599.4 296.4 599.3 C300.7 599.2 302.5 599.6 306.8 600 C311.1 600.3 316.3 601.2 322.4 601.4 C328.5 601.6 339.7 601.4 343.2 601.4" fill="none" stroke="#1a1a1a" stroke-width="1.3" stroke-dasharray="4 2.2"/>
<path d="M218.4 601.4H343.7" stroke="#8a8a8a" stroke-width="1.6"/>
<path d="M218.4 601.4v2.2M239.2 601.4v2.2M260 601.4v2.2M280.8 601.4v2.2M301.6 601.4v2.2M322.4 601.4v2.2M343.2 601.4v2.2" stroke="#222" stroke-width="0.9"/>
<path d="M218.4 551.7V602.9" stroke="#111" stroke-width="1.1"/>
<path d="M214.4 601.4h4.0M214.4 594.4h4.0M214.4 587.3h4.0M214.4 580.3h4.0M214.4 573.3h4.0M214.4 566.3h4.0M214.4 559.2h4.0M214.4 552.2h4.0" stroke="#444" stroke-width="0.9"/>
<text transform="translate(209.2 602.9) scale(1 0.495)" text-anchor="middle" font-size="8.6" font-weight="bold">0</text>
<text transform="translate(209.2 595.9) scale(1 0.495)" text-anchor="middle" font-size="8.6" font-weight="bold">1</text>
<text transform="translate(209.2 588.9) scale(1 0.495)" text-anchor="middle" font-size="8.6" font-weight="bold">2</text>
<text transform="translate(209.2 581.8) scale(1 0.495)" text-anchor="middle" font-size="8.6" font-weight="bold">3</text>
<text transform="translate(209.2 574.8) scale(1 0.495)" text-anchor="middle" font-size="8.6" font-weight="bold">4</text>
<text transform="translate(209.2 567.8) scale(1 0.495)" text-anchor="middle" font-size="8.6" font-weight="bold">5</text>
<text transform="translate(209.2 560.8) scale(1 0.495)" text-anchor="middle" font-size="8.6" font-weight="bold">6</text>
<text transform="translate(209.2 553.7) scale(1 0.495)" text-anchor="middle" font-size="8.6" font-weight="bold">7</text>
<text transform="translate(218.4 608.2) scale(1 0.495)" text-anchor="middle" font-size="8.6" font-weight="bold">0</text>
<text transform="translate(239.2 608.2) scale(1 0.495)" text-anchor="middle" font-size="8.6" font-weight="bold">4</text>
<text transform="translate(260 608.2) scale(1 0.495)" text-anchor="middle" font-size="8.6" font-weight="bold">8</text>
<text transform="translate(280.8 608.2) scale(1 0.495)" text-anchor="middle" font-size="8.6" font-weight="bold">12</text>
<text transform="translate(301.6 608.2) scale(1 0.495)" text-anchor="middle" font-size="8.6" font-weight="bold">16</text>
<text transform="translate(322.4 608.2) scale(1 0.495)" text-anchor="middle" font-size="8.6" font-weight="bold">20</text>
<text transform="translate(343.2 608.2) scale(1 0.495)" text-anchor="middle" font-size="8.6" font-weight="bold">24</text>
<text transform="translate(234 555) scale(1 0.71)" font-size="8.0" font-weight="bold" textLength="56.6" lengthAdjust="spacingAndGlyphs">Subject no: 230</text>
<text transform="translate(280.8 616.7) scale(1 0.72)" text-anchor="middle" font-size="7.6" font-weight="bold" textLength="75.8" lengthAdjust="spacingAndGlyphs">Elapsed time (hours)</text>
<path d="M376.3 595.2 C379.8 593.7 390.2 588.1 397.1 586.1 C404 584.1 411 584.1 417.9 583.3 C424.8 582.4 432.6 581.1 438.7 581.1 C444.8 581.1 449.1 581.7 454.3 583.3 C459.5 584.8 465.6 588.4 469.9 590.3 C474.2 592.2 476.8 593.5 480.3 594.5 C483.8 595.6 487.2 596 490.7 596.7 C494.2 597.4 499.4 598.4 501.1 598.8" fill="none" stroke="#1a1a1a" stroke-width="1.3" stroke-dasharray="4 2.2"/>
<path d="M376.3 593.8 C379.8 595.1 390.2 602.2 397.1 601.6 C404 601 411 593 417.9 590.3 C424.8 587.6 432.6 586.4 438.7 585.4 C444.8 584.3 450 583.6 454.3 584 C458.6 584.3 460.4 585.7 464.7 587.5 C469 589.2 476 592.9 480.3 594.5 C484.6 596.2 487.2 597.6 490.7 597.4 C494.2 597.1 499.4 593.8 501.1 593.1" fill="none" stroke="#1a1a1a" stroke-width="1.4"/>
<path d="M376.3 596 C378.9 595.2 387.6 592.9 391.9 591.7 C396.2 590.5 398 588.9 402.3 588.9 C406.6 588.9 411.8 591.2 417.9 591.7 C424 592.2 432.6 591.5 438.7 591.7 C444.8 592 449.1 591.8 454.3 593.1 C459.5 594.4 465.6 598.7 469.9 599.5 C474.2 600.3 476.8 598.7 480.3 598.1 C483.8 597.5 487.2 596 490.7 596 C494.2 596 499.4 597.7 501.1 598.1" fill="none" stroke="#2a2a2a" stroke-width="1.05"/>
<path d="M376.3 595.2 C379.8 594.7 390.2 591.6 397.1 591.7 C404 591.8 411 596.2 417.9 596 C424.8 595.7 431.8 590.8 438.7 590.3 C445.6 589.8 454.3 592.4 459.5 593.1 C464.7 593.8 465.6 594.1 469.9 594.5 C474.2 595 480.3 595.8 485.5 596 C490.7 596.1 498.5 595.4 501.1 595.2" fill="none" stroke="#2a2a2a" stroke-width="1.05" stroke-dasharray="2 1.4"/>
<path d="M376.3 601.6H501.6" stroke="#8a8a8a" stroke-width="1.6"/>
<path d="M376.3 601.6v2.2M397.1 601.6v2.2M417.9 601.6v2.2M438.7 601.6v2.2M459.5 601.6v2.2M480.3 601.6v2.2M501.1 601.6v2.2" stroke="#222" stroke-width="0.9"/>
<path d="M376.3 551.7V603.1" stroke="#111" stroke-width="1.1"/>
<path d="M372.3 601.6h4.0M372.3 594.5h4.0M372.3 587.5h4.0M372.3 580.4h4.0M372.3 573.4h4.0M372.3 566.3h4.0M372.3 559.3h4.0M372.3 552.2h4.0" stroke="#444" stroke-width="0.9"/>
<text transform="translate(367.1 603.1) scale(1 0.495)" text-anchor="middle" font-size="8.6" font-weight="bold">0</text>
<text transform="translate(367.1 596.1) scale(1 0.495)" text-anchor="middle" font-size="8.6" font-weight="bold">1</text>
<text transform="translate(367.1 589) scale(1 0.495)" text-anchor="middle" font-size="8.6" font-weight="bold">2</text>
<text transform="translate(367.1 582) scale(1 0.495)" text-anchor="middle" font-size="8.6" font-weight="bold">3</text>
<text transform="translate(367.1 574.9) scale(1 0.495)" text-anchor="middle" font-size="8.6" font-weight="bold">4</text>
<text transform="translate(367.1 567.8) scale(1 0.495)" text-anchor="middle" font-size="8.6" font-weight="bold">5</text>
<text transform="translate(367.1 560.8) scale(1 0.495)" text-anchor="middle" font-size="8.6" font-weight="bold">6</text>
<text transform="translate(367.1 553.7) scale(1 0.495)" text-anchor="middle" font-size="8.6" font-weight="bold">7</text>
<text transform="translate(376.3 608.4) scale(1 0.495)" text-anchor="middle" font-size="8.6" font-weight="bold">0</text>
<text transform="translate(397.1 608.4) scale(1 0.495)" text-anchor="middle" font-size="8.6" font-weight="bold">4</text>
<text transform="translate(417.9 608.4) scale(1 0.495)" text-anchor="middle" font-size="8.6" font-weight="bold">8</text>
<text transform="translate(438.7 608.4) scale(1 0.495)" text-anchor="middle" font-size="8.6" font-weight="bold">12</text>
<text transform="translate(459.5 608.4) scale(1 0.495)" text-anchor="middle" font-size="8.6" font-weight="bold">16</text>
<text transform="translate(480.3 608.4) scale(1 0.495)" text-anchor="middle" font-size="8.6" font-weight="bold">20</text>
<text transform="translate(501.1 608.4) scale(1 0.495)" text-anchor="middle" font-size="8.6" font-weight="bold">24</text>
<text transform="translate(391 555) scale(1 0.71)" font-size="8.0" font-weight="bold" textLength="56.6" lengthAdjust="spacingAndGlyphs">Subject no: 231</text>
<text transform="translate(438.7 616.9) scale(1 0.72)" text-anchor="middle" font-size="7.6" font-weight="bold" textLength="75.8" lengthAdjust="spacingAndGlyphs">Elapsed time (hours)</text>
<path d="M468 9.5H476.7" stroke="#555" stroke-width="1.3"/>
<text transform="translate(479.8 11.5) scale(1 0.72)" font-size="7.9" font-weight="bold" textLength="31.8" lengthAdjust="spacingAndGlyphs">Clamp 1</text>
<path d="M468 15.3H476.7" stroke="#555" stroke-width="1.0" stroke-dasharray="1.6 1.1"/>
<text transform="translate(479.8 17.3) scale(1 0.72)" font-size="7.9" font-weight="bold" textLength="31.8" lengthAdjust="spacingAndGlyphs">Clamp 2</text>
<path d="M468 20.7H476.7" stroke="#444" stroke-width="1.0" stroke-dasharray="0.9 2 5 0"/>
<text transform="translate(479.8 22.7) scale(1 0.72)" font-size="7.9" font-weight="bold" textLength="31.8" lengthAdjust="spacingAndGlyphs">Clamp 3</text>
<path d="M468 26.6H476.7" stroke="#444" stroke-width="0.9" stroke-dasharray="1.2 0.8 7 0"/>
<text transform="translate(479.8 28.6) scale(1 0.72)" font-size="7.9" font-weight="bold" textLength="31.8" lengthAdjust="spacingAndGlyphs">Clamp 4</text>
</svg>
</body></html>
